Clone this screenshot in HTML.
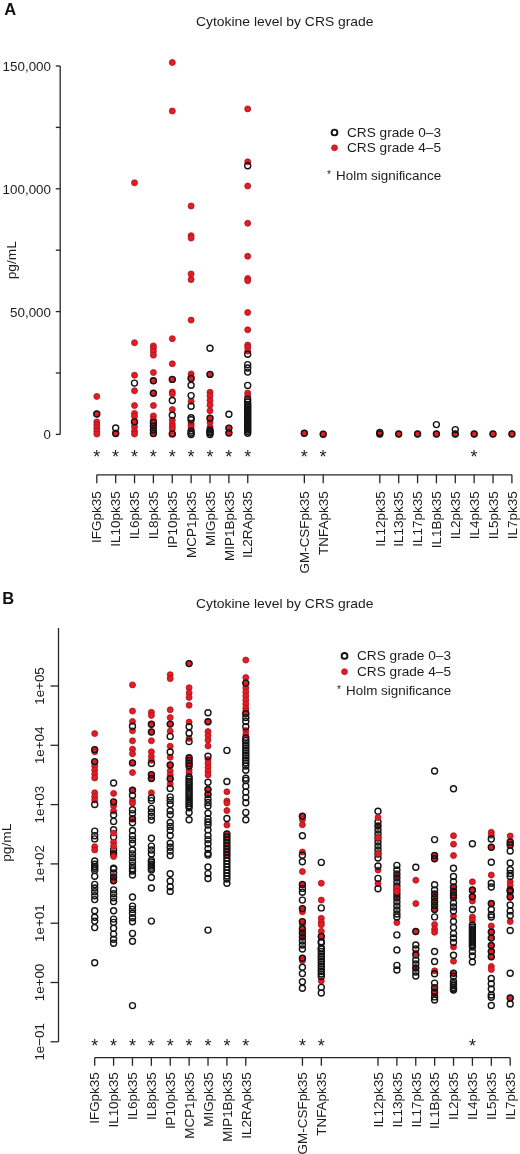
<!DOCTYPE html>
<html><head><meta charset="utf-8"><style>
html,body{margin:0;padding:0;background:#fff;}
svg{display:block;font-family:"Liberation Sans", sans-serif;will-change:transform;}
</style></head><body>
<svg width="520" height="1154" viewBox="0 0 520 1154" style='font-family:"Liberation Sans", sans-serif;'>
<rect width="520" height="1154" fill="#fff"/>
<text x="4.20" y="15.30" font-size="16.5" text-anchor="start" font-weight="bold" fill="#111">A</text>
<text x="284.80" y="26.00" font-size="13" text-anchor="middle" font-weight="normal" fill="#1c1c1c" textLength="177.5" lengthAdjust="spacingAndGlyphs">Cytokine level by CRS grade</text>
<line x1="60.20" y1="66.00" x2="60.20" y2="434.40" stroke="#262626" stroke-width="1.3"/>
<line x1="55.80" y1="66.00" x2="60.20" y2="66.00" stroke="#262626" stroke-width="1.3"/>
<line x1="55.80" y1="127.40" x2="60.20" y2="127.40" stroke="#262626" stroke-width="1.3"/>
<line x1="55.80" y1="188.80" x2="60.20" y2="188.80" stroke="#262626" stroke-width="1.3"/>
<line x1="55.80" y1="250.20" x2="60.20" y2="250.20" stroke="#262626" stroke-width="1.3"/>
<line x1="55.80" y1="311.60" x2="60.20" y2="311.60" stroke="#262626" stroke-width="1.3"/>
<line x1="55.80" y1="373.00" x2="60.20" y2="373.00" stroke="#262626" stroke-width="1.3"/>
<line x1="55.80" y1="434.40" x2="60.20" y2="434.40" stroke="#262626" stroke-width="1.3"/>
<text x="51.00" y="70.90" font-size="13" text-anchor="end" font-weight="normal" fill="#1c1c1c" textLength="48.4" lengthAdjust="spacingAndGlyphs">150,000</text>
<text x="51.00" y="193.70" font-size="13" text-anchor="end" font-weight="normal" fill="#1c1c1c" textLength="48.4" lengthAdjust="spacingAndGlyphs">100,000</text>
<text x="51.00" y="316.50" font-size="13" text-anchor="end" font-weight="normal" fill="#1c1c1c" textLength="41.0" lengthAdjust="spacingAndGlyphs">50,000</text>
<text x="51.00" y="439.30" font-size="13" text-anchor="end" font-weight="normal" fill="#1c1c1c" textLength="7.4" lengthAdjust="spacingAndGlyphs">0</text>
<text x="16.30" y="260.20" font-size="13" text-anchor="middle" font-weight="normal" fill="#1c1c1c" transform="rotate(-90 16.3 260.2)" textLength="38.3" lengthAdjust="spacingAndGlyphs">pg/mL</text>
<line x1="96.80" y1="474.80" x2="511.90" y2="474.80" stroke="#262626" stroke-width="1.3"/>
<line x1="96.80" y1="474.80" x2="96.80" y2="483.30" stroke="#262626" stroke-width="1.3"/>
<text x="101.50" y="491.30" font-size="13" text-anchor="end" font-weight="normal" fill="#1c1c1c" transform="rotate(-90 101.5 491.3)" textLength="51.6" lengthAdjust="spacingAndGlyphs">IFGpk35</text>
<line x1="115.67" y1="474.80" x2="115.67" y2="483.30" stroke="#262626" stroke-width="1.3"/>
<text x="120.37" y="491.30" font-size="13" text-anchor="end" font-weight="normal" fill="#1c1c1c" transform="rotate(-90 120.368 491.3)" textLength="55.4" lengthAdjust="spacingAndGlyphs">IL10pk35</text>
<line x1="134.54" y1="474.80" x2="134.54" y2="483.30" stroke="#262626" stroke-width="1.3"/>
<text x="139.24" y="491.30" font-size="13" text-anchor="end" font-weight="normal" fill="#1c1c1c" transform="rotate(-90 139.236 491.3)" textLength="47.9" lengthAdjust="spacingAndGlyphs">IL6pk35</text>
<line x1="153.40" y1="474.80" x2="153.40" y2="483.30" stroke="#262626" stroke-width="1.3"/>
<text x="158.10" y="491.30" font-size="13" text-anchor="end" font-weight="normal" fill="#1c1c1c" transform="rotate(-90 158.10399999999998 491.3)" textLength="47.9" lengthAdjust="spacingAndGlyphs">IL8pk35</text>
<line x1="172.27" y1="474.80" x2="172.27" y2="483.30" stroke="#262626" stroke-width="1.3"/>
<text x="176.97" y="491.30" font-size="13" text-anchor="end" font-weight="normal" fill="#1c1c1c" transform="rotate(-90 176.97199999999998 491.3)" textLength="56.9" lengthAdjust="spacingAndGlyphs">IP10pk35</text>
<line x1="191.14" y1="474.80" x2="191.14" y2="483.30" stroke="#262626" stroke-width="1.3"/>
<text x="195.84" y="491.30" font-size="13" text-anchor="end" font-weight="normal" fill="#1c1c1c" transform="rotate(-90 195.83999999999997 491.3)" textLength="66.6" lengthAdjust="spacingAndGlyphs">MCP1pk35</text>
<line x1="210.01" y1="474.80" x2="210.01" y2="483.30" stroke="#262626" stroke-width="1.3"/>
<text x="214.71" y="491.30" font-size="13" text-anchor="end" font-weight="normal" fill="#1c1c1c" transform="rotate(-90 214.70799999999997 491.3)" textLength="54.6" lengthAdjust="spacingAndGlyphs">MIGpk35</text>
<line x1="228.88" y1="474.80" x2="228.88" y2="483.30" stroke="#262626" stroke-width="1.3"/>
<text x="233.58" y="491.30" font-size="13" text-anchor="end" font-weight="normal" fill="#1c1c1c" transform="rotate(-90 233.57599999999996 491.3)" textLength="69.6" lengthAdjust="spacingAndGlyphs">MIP1Bpk35</text>
<line x1="247.74" y1="474.80" x2="247.74" y2="483.30" stroke="#262626" stroke-width="1.3"/>
<text x="252.44" y="491.30" font-size="13" text-anchor="end" font-weight="normal" fill="#1c1c1c" transform="rotate(-90 252.44399999999996 491.3)" textLength="66.6" lengthAdjust="spacingAndGlyphs">IL2RApk35</text>
<line x1="304.35" y1="474.80" x2="304.35" y2="483.30" stroke="#262626" stroke-width="1.3"/>
<text x="309.05" y="491.30" font-size="13" text-anchor="end" font-weight="normal" fill="#1c1c1c" transform="rotate(-90 309.04799999999994 491.3)" textLength="82.2" lengthAdjust="spacingAndGlyphs">GM-CSFpk35</text>
<line x1="323.22" y1="474.80" x2="323.22" y2="483.30" stroke="#262626" stroke-width="1.3"/>
<text x="327.92" y="491.30" font-size="13" text-anchor="end" font-weight="normal" fill="#1c1c1c" transform="rotate(-90 327.916 491.3)" textLength="63.6" lengthAdjust="spacingAndGlyphs">TNFApk35</text>
<line x1="379.82" y1="474.80" x2="379.82" y2="483.30" stroke="#262626" stroke-width="1.3"/>
<text x="384.52" y="491.30" font-size="13" text-anchor="end" font-weight="normal" fill="#1c1c1c" transform="rotate(-90 384.52 491.3)" textLength="55.4" lengthAdjust="spacingAndGlyphs">IL12pk35</text>
<line x1="398.69" y1="474.80" x2="398.69" y2="483.30" stroke="#262626" stroke-width="1.3"/>
<text x="403.39" y="491.30" font-size="13" text-anchor="end" font-weight="normal" fill="#1c1c1c" transform="rotate(-90 403.388 491.3)" textLength="55.4" lengthAdjust="spacingAndGlyphs">IL13pk35</text>
<line x1="417.56" y1="474.80" x2="417.56" y2="483.30" stroke="#262626" stroke-width="1.3"/>
<text x="422.26" y="491.30" font-size="13" text-anchor="end" font-weight="normal" fill="#1c1c1c" transform="rotate(-90 422.256 491.3)" textLength="55.4" lengthAdjust="spacingAndGlyphs">IL17pk35</text>
<line x1="436.42" y1="474.80" x2="436.42" y2="483.30" stroke="#262626" stroke-width="1.3"/>
<text x="441.12" y="491.30" font-size="13" text-anchor="end" font-weight="normal" fill="#1c1c1c" transform="rotate(-90 441.12399999999997 491.3)" textLength="56.9" lengthAdjust="spacingAndGlyphs">IL1Bpk35</text>
<line x1="455.29" y1="474.80" x2="455.29" y2="483.30" stroke="#262626" stroke-width="1.3"/>
<text x="459.99" y="491.30" font-size="13" text-anchor="end" font-weight="normal" fill="#1c1c1c" transform="rotate(-90 459.99199999999996 491.3)" textLength="47.9" lengthAdjust="spacingAndGlyphs">IL2pk35</text>
<line x1="474.16" y1="474.80" x2="474.16" y2="483.30" stroke="#262626" stroke-width="1.3"/>
<text x="478.86" y="491.30" font-size="13" text-anchor="end" font-weight="normal" fill="#1c1c1c" transform="rotate(-90 478.85999999999996 491.3)" textLength="47.9" lengthAdjust="spacingAndGlyphs">IL4pk35</text>
<line x1="493.03" y1="474.80" x2="493.03" y2="483.30" stroke="#262626" stroke-width="1.3"/>
<text x="497.73" y="491.30" font-size="13" text-anchor="end" font-weight="normal" fill="#1c1c1c" transform="rotate(-90 497.72799999999995 491.3)" textLength="47.9" lengthAdjust="spacingAndGlyphs">IL5pk35</text>
<line x1="511.90" y1="474.80" x2="511.90" y2="483.30" stroke="#262626" stroke-width="1.3"/>
<text x="516.60" y="491.30" font-size="13" text-anchor="end" font-weight="normal" fill="#1c1c1c" transform="rotate(-90 516.596 491.3)" textLength="47.9" lengthAdjust="spacingAndGlyphs">IL7pk35</text>
<text x="96.70" y="463.10" font-size="18" text-anchor="middle" font-weight="normal" fill="#1c1c1c">*</text>
<text x="115.57" y="463.10" font-size="18" text-anchor="middle" font-weight="normal" fill="#1c1c1c">*</text>
<text x="134.44" y="463.10" font-size="18" text-anchor="middle" font-weight="normal" fill="#1c1c1c">*</text>
<text x="153.30" y="463.10" font-size="18" text-anchor="middle" font-weight="normal" fill="#1c1c1c">*</text>
<text x="172.17" y="463.10" font-size="18" text-anchor="middle" font-weight="normal" fill="#1c1c1c">*</text>
<text x="191.04" y="463.10" font-size="18" text-anchor="middle" font-weight="normal" fill="#1c1c1c">*</text>
<text x="209.91" y="463.10" font-size="18" text-anchor="middle" font-weight="normal" fill="#1c1c1c">*</text>
<text x="228.78" y="463.10" font-size="18" text-anchor="middle" font-weight="normal" fill="#1c1c1c">*</text>
<text x="247.64" y="463.10" font-size="18" text-anchor="middle" font-weight="normal" fill="#1c1c1c">*</text>
<text x="304.25" y="463.10" font-size="18" text-anchor="middle" font-weight="normal" fill="#1c1c1c">*</text>
<text x="323.12" y="463.10" font-size="18" text-anchor="middle" font-weight="normal" fill="#1c1c1c">*</text>
<text x="474.06" y="463.10" font-size="18" text-anchor="middle" font-weight="normal" fill="#1c1c1c">*</text>
<text x="2.30" y="604.30" font-size="16.5" text-anchor="start" font-weight="bold" fill="#111">B</text>
<text x="284.80" y="607.80" font-size="13" text-anchor="middle" font-weight="normal" fill="#1c1c1c" textLength="177.5" lengthAdjust="spacingAndGlyphs">Cytokine level by CRS grade</text>
<line x1="58.50" y1="628.00" x2="58.50" y2="1041.80" stroke="#262626" stroke-width="1.3"/>
<line x1="50.50" y1="1041.80" x2="58.50" y2="1041.80" stroke="#262626" stroke-width="1.3"/>
<text x="44.00" y="1041.80" font-size="13.4" text-anchor="middle" font-weight="normal" fill="#1c1c1c" transform="rotate(-90 44.0 1041.8)">1e−01</text>
<line x1="50.50" y1="982.50" x2="58.50" y2="982.50" stroke="#262626" stroke-width="1.3"/>
<text x="44.00" y="982.50" font-size="13.4" text-anchor="middle" font-weight="normal" fill="#1c1c1c" transform="rotate(-90 44.0 982.5)">1e+00</text>
<line x1="50.50" y1="923.20" x2="58.50" y2="923.20" stroke="#262626" stroke-width="1.3"/>
<text x="44.00" y="923.20" font-size="13.4" text-anchor="middle" font-weight="normal" fill="#1c1c1c" transform="rotate(-90 44.0 923.2)">1e+01</text>
<line x1="50.50" y1="863.90" x2="58.50" y2="863.90" stroke="#262626" stroke-width="1.3"/>
<text x="44.00" y="863.90" font-size="13.4" text-anchor="middle" font-weight="normal" fill="#1c1c1c" transform="rotate(-90 44.0 863.9)">1e+02</text>
<line x1="50.50" y1="804.60" x2="58.50" y2="804.60" stroke="#262626" stroke-width="1.3"/>
<text x="44.00" y="804.60" font-size="13.4" text-anchor="middle" font-weight="normal" fill="#1c1c1c" transform="rotate(-90 44.0 804.6)">1e+03</text>
<line x1="50.50" y1="745.30" x2="58.50" y2="745.30" stroke="#262626" stroke-width="1.3"/>
<text x="44.00" y="745.30" font-size="13.4" text-anchor="middle" font-weight="normal" fill="#1c1c1c" transform="rotate(-90 44.0 745.3)">1e+04</text>
<line x1="50.50" y1="686.00" x2="58.50" y2="686.00" stroke="#262626" stroke-width="1.3"/>
<text x="44.00" y="686.00" font-size="13.4" text-anchor="middle" font-weight="normal" fill="#1c1c1c" transform="rotate(-90 44.0 686.0)">1e+05</text>
<text x="10.90" y="842.70" font-size="13" text-anchor="middle" font-weight="normal" fill="#1c1c1c" transform="rotate(-90 10.9 842.7)" textLength="38.3" lengthAdjust="spacingAndGlyphs">pg/mL</text>
<line x1="94.70" y1="1057.70" x2="510.19" y2="1057.70" stroke="#262626" stroke-width="1.3"/>
<line x1="94.70" y1="1057.70" x2="94.70" y2="1065.80" stroke="#262626" stroke-width="1.3"/>
<text x="99.50" y="1072.20" font-size="13" text-anchor="end" font-weight="normal" fill="#1c1c1c" transform="rotate(-90 99.5 1072.2)" textLength="51.6" lengthAdjust="spacingAndGlyphs">IFGpk35</text>
<line x1="113.59" y1="1057.70" x2="113.59" y2="1065.80" stroke="#262626" stroke-width="1.3"/>
<text x="118.39" y="1072.20" font-size="13" text-anchor="end" font-weight="normal" fill="#1c1c1c" transform="rotate(-90 118.386 1072.2)" textLength="55.4" lengthAdjust="spacingAndGlyphs">IL10pk35</text>
<line x1="132.47" y1="1057.70" x2="132.47" y2="1065.80" stroke="#262626" stroke-width="1.3"/>
<text x="137.27" y="1072.20" font-size="13" text-anchor="end" font-weight="normal" fill="#1c1c1c" transform="rotate(-90 137.27200000000002 1072.2)" textLength="47.9" lengthAdjust="spacingAndGlyphs">IL6pk35</text>
<line x1="151.36" y1="1057.70" x2="151.36" y2="1065.80" stroke="#262626" stroke-width="1.3"/>
<text x="156.16" y="1072.20" font-size="13" text-anchor="end" font-weight="normal" fill="#1c1c1c" transform="rotate(-90 156.15800000000002 1072.2)" textLength="47.9" lengthAdjust="spacingAndGlyphs">IL8pk35</text>
<line x1="170.24" y1="1057.70" x2="170.24" y2="1065.80" stroke="#262626" stroke-width="1.3"/>
<text x="175.04" y="1072.20" font-size="13" text-anchor="end" font-weight="normal" fill="#1c1c1c" transform="rotate(-90 175.044 1072.2)" textLength="56.9" lengthAdjust="spacingAndGlyphs">IP10pk35</text>
<line x1="189.13" y1="1057.70" x2="189.13" y2="1065.80" stroke="#262626" stroke-width="1.3"/>
<text x="193.93" y="1072.20" font-size="13" text-anchor="end" font-weight="normal" fill="#1c1c1c" transform="rotate(-90 193.93 1072.2)" textLength="66.6" lengthAdjust="spacingAndGlyphs">MCP1pk35</text>
<line x1="208.02" y1="1057.70" x2="208.02" y2="1065.80" stroke="#262626" stroke-width="1.3"/>
<text x="212.82" y="1072.20" font-size="13" text-anchor="end" font-weight="normal" fill="#1c1c1c" transform="rotate(-90 212.81600000000003 1072.2)" textLength="54.6" lengthAdjust="spacingAndGlyphs">MIGpk35</text>
<line x1="226.90" y1="1057.70" x2="226.90" y2="1065.80" stroke="#262626" stroke-width="1.3"/>
<text x="231.70" y="1072.20" font-size="13" text-anchor="end" font-weight="normal" fill="#1c1c1c" transform="rotate(-90 231.702 1072.2)" textLength="69.6" lengthAdjust="spacingAndGlyphs">MIP1Bpk35</text>
<line x1="245.79" y1="1057.70" x2="245.79" y2="1065.80" stroke="#262626" stroke-width="1.3"/>
<text x="250.59" y="1072.20" font-size="13" text-anchor="end" font-weight="normal" fill="#1c1c1c" transform="rotate(-90 250.58800000000002 1072.2)" textLength="66.6" lengthAdjust="spacingAndGlyphs">IL2RApk35</text>
<line x1="302.45" y1="1057.70" x2="302.45" y2="1065.80" stroke="#262626" stroke-width="1.3"/>
<text x="307.25" y="1072.20" font-size="13" text-anchor="end" font-weight="normal" fill="#1c1c1c" transform="rotate(-90 307.246 1072.2)" textLength="82.2" lengthAdjust="spacingAndGlyphs">GM-CSFpk35</text>
<line x1="321.33" y1="1057.70" x2="321.33" y2="1065.80" stroke="#262626" stroke-width="1.3"/>
<text x="326.13" y="1072.20" font-size="13" text-anchor="end" font-weight="normal" fill="#1c1c1c" transform="rotate(-90 326.132 1072.2)" textLength="63.6" lengthAdjust="spacingAndGlyphs">TNFApk35</text>
<line x1="377.99" y1="1057.70" x2="377.99" y2="1065.80" stroke="#262626" stroke-width="1.3"/>
<text x="382.79" y="1072.20" font-size="13" text-anchor="end" font-weight="normal" fill="#1c1c1c" transform="rotate(-90 382.78999999999996 1072.2)" textLength="55.4" lengthAdjust="spacingAndGlyphs">IL12pk35</text>
<line x1="396.88" y1="1057.70" x2="396.88" y2="1065.80" stroke="#262626" stroke-width="1.3"/>
<text x="401.68" y="1072.20" font-size="13" text-anchor="end" font-weight="normal" fill="#1c1c1c" transform="rotate(-90 401.676 1072.2)" textLength="55.4" lengthAdjust="spacingAndGlyphs">IL13pk35</text>
<line x1="415.76" y1="1057.70" x2="415.76" y2="1065.80" stroke="#262626" stroke-width="1.3"/>
<text x="420.56" y="1072.20" font-size="13" text-anchor="end" font-weight="normal" fill="#1c1c1c" transform="rotate(-90 420.562 1072.2)" textLength="55.4" lengthAdjust="spacingAndGlyphs">IL17pk35</text>
<line x1="434.65" y1="1057.70" x2="434.65" y2="1065.80" stroke="#262626" stroke-width="1.3"/>
<text x="439.45" y="1072.20" font-size="13" text-anchor="end" font-weight="normal" fill="#1c1c1c" transform="rotate(-90 439.448 1072.2)" textLength="56.9" lengthAdjust="spacingAndGlyphs">IL1Bpk35</text>
<line x1="453.53" y1="1057.70" x2="453.53" y2="1065.80" stroke="#262626" stroke-width="1.3"/>
<text x="458.33" y="1072.20" font-size="13" text-anchor="end" font-weight="normal" fill="#1c1c1c" transform="rotate(-90 458.334 1072.2)" textLength="47.9" lengthAdjust="spacingAndGlyphs">IL2pk35</text>
<line x1="472.42" y1="1057.70" x2="472.42" y2="1065.80" stroke="#262626" stroke-width="1.3"/>
<text x="477.22" y="1072.20" font-size="13" text-anchor="end" font-weight="normal" fill="#1c1c1c" transform="rotate(-90 477.21999999999997 1072.2)" textLength="47.9" lengthAdjust="spacingAndGlyphs">IL4pk35</text>
<line x1="491.31" y1="1057.70" x2="491.31" y2="1065.80" stroke="#262626" stroke-width="1.3"/>
<text x="496.11" y="1072.20" font-size="13" text-anchor="end" font-weight="normal" fill="#1c1c1c" transform="rotate(-90 496.106 1072.2)" textLength="47.9" lengthAdjust="spacingAndGlyphs">IL5pk35</text>
<line x1="510.19" y1="1057.70" x2="510.19" y2="1065.80" stroke="#262626" stroke-width="1.3"/>
<text x="514.99" y="1072.20" font-size="13" text-anchor="end" font-weight="normal" fill="#1c1c1c" transform="rotate(-90 514.992 1072.2)" textLength="47.9" lengthAdjust="spacingAndGlyphs">IL7pk35</text>
<text x="94.70" y="1051.90" font-size="18" text-anchor="middle" font-weight="normal" fill="#1c1c1c">*</text>
<text x="113.59" y="1051.90" font-size="18" text-anchor="middle" font-weight="normal" fill="#1c1c1c">*</text>
<text x="132.47" y="1051.90" font-size="18" text-anchor="middle" font-weight="normal" fill="#1c1c1c">*</text>
<text x="151.36" y="1051.90" font-size="18" text-anchor="middle" font-weight="normal" fill="#1c1c1c">*</text>
<text x="170.24" y="1051.90" font-size="18" text-anchor="middle" font-weight="normal" fill="#1c1c1c">*</text>
<text x="189.13" y="1051.90" font-size="18" text-anchor="middle" font-weight="normal" fill="#1c1c1c">*</text>
<text x="208.02" y="1051.90" font-size="18" text-anchor="middle" font-weight="normal" fill="#1c1c1c">*</text>
<text x="226.90" y="1051.90" font-size="18" text-anchor="middle" font-weight="normal" fill="#1c1c1c">*</text>
<text x="245.79" y="1051.90" font-size="18" text-anchor="middle" font-weight="normal" fill="#1c1c1c">*</text>
<text x="302.45" y="1051.90" font-size="18" text-anchor="middle" font-weight="normal" fill="#1c1c1c">*</text>
<text x="321.33" y="1051.90" font-size="18" text-anchor="middle" font-weight="normal" fill="#1c1c1c">*</text>
<text x="472.42" y="1051.90" font-size="18" text-anchor="middle" font-weight="normal" fill="#1c1c1c">*</text>
<circle cx="334.5" cy="132.5" r="2.9" fill="none" stroke="#111" stroke-width="1.9"/>
<circle cx="334.5" cy="147.8" r="3.0" fill="#e01b24" stroke="#b8141c" stroke-width="0.7"/>
<text x="347.00" y="137.00" font-size="13" text-anchor="start" font-weight="normal" fill="#1c1c1c" textLength="94.0" lengthAdjust="spacingAndGlyphs">CRS grade 0–3</text>
<text x="347.00" y="152.30" font-size="13" text-anchor="start" font-weight="normal" fill="#1c1c1c" textLength="94.0" lengthAdjust="spacingAndGlyphs">CRS grade 4–5</text>
<text x="328.90" y="177.90" font-size="10" text-anchor="middle" font-weight="normal" fill="#1c1c1c">*</text>
<text x="336.10" y="179.90" font-size="13" text-anchor="start" font-weight="normal" fill="#1c1c1c" textLength="105.0" lengthAdjust="spacingAndGlyphs">Holm significance</text>
<circle cx="344.5" cy="655.9" r="2.9" fill="none" stroke="#111" stroke-width="1.9"/>
<circle cx="344.5" cy="671.6999999999999" r="3.0" fill="#e01b24" stroke="#b8141c" stroke-width="0.7"/>
<text x="357.00" y="660.40" font-size="13" text-anchor="start" font-weight="normal" fill="#1c1c1c" textLength="94.0" lengthAdjust="spacingAndGlyphs">CRS grade 0–3</text>
<text x="357.00" y="676.20" font-size="13" text-anchor="start" font-weight="normal" fill="#1c1c1c" textLength="94.0" lengthAdjust="spacingAndGlyphs">CRS grade 4–5</text>
<text x="338.90" y="693.20" font-size="10" text-anchor="middle" font-weight="normal" fill="#1c1c1c">*</text>
<text x="346.10" y="695.20" font-size="13" text-anchor="start" font-weight="normal" fill="#1c1c1c" textLength="105.0" lengthAdjust="spacingAndGlyphs">Holm significance</text>
<circle cx="96.8" cy="396.4" r="3.0" fill="#e31c25" stroke="#a8121a" stroke-width="0.8" opacity="1"/>
<circle cx="96.8" cy="414.0" r="3.0" fill="#e31c25" stroke="#a8121a" stroke-width="0.8" opacity="1"/>
<circle cx="96.8" cy="422.0" r="3.0" fill="#e31c25" stroke="#a8121a" stroke-width="0.8" opacity="1"/>
<circle cx="96.8" cy="425.0" r="3.0" fill="#e31c25" stroke="#a8121a" stroke-width="0.8" opacity="1"/>
<circle cx="96.8" cy="428.0" r="3.0" fill="#e31c25" stroke="#a8121a" stroke-width="0.8" opacity="1"/>
<circle cx="96.8" cy="431.0" r="3.0" fill="#e31c25" stroke="#a8121a" stroke-width="0.8" opacity="1"/>
<circle cx="96.8" cy="434.0" r="3.0" fill="#e31c25" stroke="#a8121a" stroke-width="0.8" opacity="1"/>
<circle cx="115.7" cy="433.0" r="3.0" fill="#e31c25" stroke="#a8121a" stroke-width="0.8" opacity="1"/>
<circle cx="134.5" cy="182.8" r="3.0" fill="#e31c25" stroke="#a8121a" stroke-width="0.8" opacity="1"/>
<circle cx="134.5" cy="342.7" r="3.0" fill="#e31c25" stroke="#a8121a" stroke-width="0.8" opacity="1"/>
<circle cx="134.5" cy="375.2" r="3.0" fill="#e31c25" stroke="#a8121a" stroke-width="0.8" opacity="1"/>
<circle cx="134.5" cy="390.7" r="3.0" fill="#e31c25" stroke="#a8121a" stroke-width="0.8" opacity="1"/>
<circle cx="134.5" cy="405.5" r="3.0" fill="#e31c25" stroke="#a8121a" stroke-width="0.8" opacity="1"/>
<circle cx="134.5" cy="413.4" r="3.0" fill="#e31c25" stroke="#a8121a" stroke-width="0.8" opacity="1"/>
<circle cx="134.5" cy="416.5" r="3.0" fill="#e31c25" stroke="#a8121a" stroke-width="0.8" opacity="1"/>
<circle cx="134.5" cy="421.9" r="3.0" fill="#e31c25" stroke="#a8121a" stroke-width="0.8" opacity="1"/>
<circle cx="134.5" cy="426.8" r="3.0" fill="#e31c25" stroke="#a8121a" stroke-width="0.8" opacity="1"/>
<circle cx="134.5" cy="431.0" r="3.0" fill="#e31c25" stroke="#a8121a" stroke-width="0.8" opacity="1"/>
<circle cx="134.5" cy="434.0" r="3.0" fill="#e31c25" stroke="#a8121a" stroke-width="0.8" opacity="1"/>
<circle cx="153.4" cy="345.9" r="3.0" fill="#e31c25" stroke="#a8121a" stroke-width="0.8" opacity="1"/>
<circle cx="153.4" cy="348.5" r="3.0" fill="#e31c25" stroke="#a8121a" stroke-width="0.8" opacity="1"/>
<circle cx="153.4" cy="351.6" r="3.0" fill="#e31c25" stroke="#a8121a" stroke-width="0.8" opacity="1"/>
<circle cx="153.4" cy="355.2" r="3.0" fill="#e31c25" stroke="#a8121a" stroke-width="0.8" opacity="1"/>
<circle cx="153.4" cy="372.5" r="3.0" fill="#e31c25" stroke="#a8121a" stroke-width="0.8" opacity="1"/>
<circle cx="153.4" cy="380.7" r="3.0" fill="#e31c25" stroke="#a8121a" stroke-width="0.8" opacity="1"/>
<circle cx="153.4" cy="393.2" r="3.0" fill="#e31c25" stroke="#a8121a" stroke-width="0.8" opacity="1"/>
<circle cx="153.4" cy="405.5" r="3.0" fill="#e31c25" stroke="#a8121a" stroke-width="0.8" opacity="1"/>
<circle cx="153.4" cy="415.9" r="3.0" fill="#e31c25" stroke="#a8121a" stroke-width="0.8" opacity="1"/>
<circle cx="153.4" cy="419.5" r="3.0" fill="#e31c25" stroke="#a8121a" stroke-width="0.8" opacity="1"/>
<circle cx="153.4" cy="422.5" r="3.0" fill="#e31c25" stroke="#a8121a" stroke-width="0.8" opacity="1"/>
<circle cx="153.4" cy="426.0" r="3.0" fill="#e31c25" stroke="#a8121a" stroke-width="0.8" opacity="1"/>
<circle cx="153.4" cy="430.0" r="3.0" fill="#e31c25" stroke="#a8121a" stroke-width="0.8" opacity="1"/>
<circle cx="153.4" cy="433.5" r="3.0" fill="#e31c25" stroke="#a8121a" stroke-width="0.8" opacity="1"/>
<circle cx="172.3" cy="62.5" r="3.0" fill="#e31c25" stroke="#a8121a" stroke-width="0.8" opacity="1"/>
<circle cx="172.3" cy="111.0" r="3.0" fill="#e31c25" stroke="#a8121a" stroke-width="0.8" opacity="1"/>
<circle cx="172.3" cy="338.7" r="3.0" fill="#e31c25" stroke="#a8121a" stroke-width="0.8" opacity="1"/>
<circle cx="172.3" cy="363.8" r="3.0" fill="#e31c25" stroke="#a8121a" stroke-width="0.8" opacity="1"/>
<circle cx="172.3" cy="379.4" r="3.0" fill="#e31c25" stroke="#a8121a" stroke-width="0.8" opacity="1"/>
<circle cx="172.3" cy="392.0" r="3.0" fill="#e31c25" stroke="#a8121a" stroke-width="0.8" opacity="1"/>
<circle cx="172.3" cy="393.9" r="3.0" fill="#e31c25" stroke="#a8121a" stroke-width="0.8" opacity="1"/>
<circle cx="172.3" cy="409.6" r="3.0" fill="#e31c25" stroke="#a8121a" stroke-width="0.8" opacity="1"/>
<circle cx="172.3" cy="420.1" r="3.0" fill="#e31c25" stroke="#a8121a" stroke-width="0.8" opacity="1"/>
<circle cx="172.3" cy="423.9" r="3.0" fill="#e31c25" stroke="#a8121a" stroke-width="0.8" opacity="1"/>
<circle cx="172.3" cy="426.5" r="3.0" fill="#e31c25" stroke="#a8121a" stroke-width="0.8" opacity="1"/>
<circle cx="172.3" cy="429.1" r="3.0" fill="#e31c25" stroke="#a8121a" stroke-width="0.8" opacity="1"/>
<circle cx="172.3" cy="433.9" r="3.0" fill="#e31c25" stroke="#a8121a" stroke-width="0.8" opacity="1"/>
<circle cx="191.1" cy="206.0" r="3.0" fill="#e31c25" stroke="#a8121a" stroke-width="0.8" opacity="1"/>
<circle cx="191.1" cy="235.7" r="3.0" fill="#e31c25" stroke="#a8121a" stroke-width="0.8" opacity="1"/>
<circle cx="191.1" cy="238.1" r="3.0" fill="#e31c25" stroke="#a8121a" stroke-width="0.8" opacity="1"/>
<circle cx="191.1" cy="274.0" r="3.0" fill="#e31c25" stroke="#a8121a" stroke-width="0.8" opacity="1"/>
<circle cx="191.1" cy="279.6" r="3.0" fill="#e31c25" stroke="#a8121a" stroke-width="0.8" opacity="1"/>
<circle cx="191.1" cy="320.1" r="3.0" fill="#e31c25" stroke="#a8121a" stroke-width="0.8" opacity="1"/>
<circle cx="191.1" cy="373.9" r="3.0" fill="#e31c25" stroke="#a8121a" stroke-width="0.8" opacity="1"/>
<circle cx="191.1" cy="376.7" r="3.0" fill="#e31c25" stroke="#a8121a" stroke-width="0.8" opacity="1"/>
<circle cx="191.1" cy="378.6" r="3.0" fill="#e31c25" stroke="#a8121a" stroke-width="0.8" opacity="1"/>
<circle cx="191.1" cy="401.3" r="3.0" fill="#e31c25" stroke="#a8121a" stroke-width="0.8" opacity="1"/>
<circle cx="191.1" cy="423.5" r="3.0" fill="#e31c25" stroke="#a8121a" stroke-width="0.8" opacity="1"/>
<circle cx="191.1" cy="425.3" r="3.0" fill="#e31c25" stroke="#a8121a" stroke-width="0.8" opacity="1"/>
<circle cx="191.1" cy="427.5" r="3.0" fill="#e31c25" stroke="#a8121a" stroke-width="0.8" opacity="1"/>
<circle cx="210.0" cy="374.4" r="3.0" fill="#e31c25" stroke="#a8121a" stroke-width="0.8" opacity="1"/>
<circle cx="210.0" cy="392.3" r="3.0" fill="#e31c25" stroke="#a8121a" stroke-width="0.8" opacity="1"/>
<circle cx="210.0" cy="395.8" r="3.0" fill="#e31c25" stroke="#a8121a" stroke-width="0.8" opacity="1"/>
<circle cx="210.0" cy="400.4" r="3.0" fill="#e31c25" stroke="#a8121a" stroke-width="0.8" opacity="1"/>
<circle cx="210.0" cy="405.0" r="3.0" fill="#e31c25" stroke="#a8121a" stroke-width="0.8" opacity="1"/>
<circle cx="210.0" cy="410.8" r="3.0" fill="#e31c25" stroke="#a8121a" stroke-width="0.8" opacity="1"/>
<circle cx="210.0" cy="418.3" r="3.0" fill="#e31c25" stroke="#a8121a" stroke-width="0.8" opacity="1"/>
<circle cx="210.0" cy="422.3" r="3.0" fill="#e31c25" stroke="#a8121a" stroke-width="0.8" opacity="1"/>
<circle cx="210.0" cy="426.9" r="3.0" fill="#e31c25" stroke="#a8121a" stroke-width="0.8" opacity="1"/>
<circle cx="228.9" cy="428.1" r="3.0" fill="#e31c25" stroke="#a8121a" stroke-width="0.8" opacity="1"/>
<circle cx="228.9" cy="432.7" r="3.0" fill="#e31c25" stroke="#a8121a" stroke-width="0.8" opacity="1"/>
<circle cx="247.7" cy="108.9" r="3.0" fill="#e31c25" stroke="#a8121a" stroke-width="0.8" opacity="1"/>
<circle cx="247.7" cy="161.8" r="3.0" fill="#e31c25" stroke="#a8121a" stroke-width="0.8" opacity="1"/>
<circle cx="247.7" cy="186.0" r="3.0" fill="#e31c25" stroke="#a8121a" stroke-width="0.8" opacity="1"/>
<circle cx="247.7" cy="223.3" r="3.0" fill="#e31c25" stroke="#a8121a" stroke-width="0.8" opacity="1"/>
<circle cx="247.7" cy="256.3" r="3.0" fill="#e31c25" stroke="#a8121a" stroke-width="0.8" opacity="1"/>
<circle cx="247.7" cy="278.5" r="3.0" fill="#e31c25" stroke="#a8121a" stroke-width="0.8" opacity="1"/>
<circle cx="247.7" cy="280.7" r="3.0" fill="#e31c25" stroke="#a8121a" stroke-width="0.8" opacity="1"/>
<circle cx="247.7" cy="312.5" r="3.0" fill="#e31c25" stroke="#a8121a" stroke-width="0.8" opacity="1"/>
<circle cx="247.7" cy="329.8" r="3.0" fill="#e31c25" stroke="#a8121a" stroke-width="0.8" opacity="1"/>
<circle cx="247.7" cy="345.0" r="3.0" fill="#e31c25" stroke="#a8121a" stroke-width="0.8" opacity="1"/>
<circle cx="247.7" cy="347.3" r="3.0" fill="#e31c25" stroke="#a8121a" stroke-width="0.8" opacity="1"/>
<circle cx="247.7" cy="351.0" r="3.0" fill="#e31c25" stroke="#a8121a" stroke-width="0.8" opacity="1"/>
<circle cx="247.7" cy="392.9" r="3.0" fill="#e31c25" stroke="#a8121a" stroke-width="0.8" opacity="1"/>
<circle cx="247.7" cy="395.8" r="3.0" fill="#e31c25" stroke="#a8121a" stroke-width="0.8" opacity="1"/>
<circle cx="304.3" cy="433.3" r="3.0" fill="#e31c25" stroke="#a8121a" stroke-width="0.8" opacity="1"/>
<circle cx="323.2" cy="434.2" r="3.0" fill="#e31c25" stroke="#a8121a" stroke-width="0.8" opacity="1"/>
<circle cx="379.8" cy="434.0" r="3.0" fill="#e31c25" stroke="#a8121a" stroke-width="0.8" opacity="1"/>
<circle cx="398.7" cy="434.0" r="3.0" fill="#e31c25" stroke="#a8121a" stroke-width="0.8" opacity="1"/>
<circle cx="417.6" cy="434.0" r="3.0" fill="#e31c25" stroke="#a8121a" stroke-width="0.8" opacity="1"/>
<circle cx="436.4" cy="434.0" r="3.0" fill="#e31c25" stroke="#a8121a" stroke-width="0.8" opacity="1"/>
<circle cx="455.3" cy="434.0" r="3.0" fill="#e31c25" stroke="#a8121a" stroke-width="0.8" opacity="1"/>
<circle cx="474.2" cy="434.0" r="3.0" fill="#e31c25" stroke="#a8121a" stroke-width="0.8" opacity="1"/>
<circle cx="493.0" cy="434.0" r="3.0" fill="#e31c25" stroke="#a8121a" stroke-width="0.8" opacity="1"/>
<circle cx="511.9" cy="434.0" r="3.0" fill="#e31c25" stroke="#a8121a" stroke-width="0.8" opacity="1"/>
<circle cx="96.8" cy="414.0" r="3.0" fill="none" stroke="#141414" stroke-width="1.4"/>
<circle cx="115.7" cy="428.0" r="3.0" fill="none" stroke="#141414" stroke-width="1.4"/>
<circle cx="115.7" cy="433.5" r="3.0" fill="none" stroke="#141414" stroke-width="1.4"/>
<circle cx="134.5" cy="383.1" r="3.0" fill="none" stroke="#141414" stroke-width="1.4"/>
<circle cx="134.5" cy="421.9" r="3.0" fill="none" stroke="#141414" stroke-width="1.4"/>
<circle cx="153.4" cy="380.7" r="3.0" fill="none" stroke="#141414" stroke-width="1.4"/>
<circle cx="153.4" cy="393.2" r="3.0" fill="none" stroke="#141414" stroke-width="1.4"/>
<circle cx="153.4" cy="422.5" r="3.0" fill="none" stroke="#141414" stroke-width="1.4"/>
<circle cx="153.4" cy="426.0" r="3.0" fill="none" stroke="#141414" stroke-width="1.4"/>
<circle cx="153.4" cy="430.0" r="3.0" fill="none" stroke="#141414" stroke-width="1.4"/>
<circle cx="153.4" cy="433.5" r="3.0" fill="none" stroke="#141414" stroke-width="1.4"/>
<circle cx="172.3" cy="379.4" r="3.0" fill="none" stroke="#141414" stroke-width="1.4"/>
<circle cx="172.3" cy="400.5" r="3.0" fill="none" stroke="#141414" stroke-width="1.4"/>
<circle cx="172.3" cy="415.3" r="3.0" fill="none" stroke="#141414" stroke-width="1.4"/>
<circle cx="172.3" cy="433.9" r="3.0" fill="none" stroke="#141414" stroke-width="1.4"/>
<circle cx="191.1" cy="378.6" r="3.0" fill="none" stroke="#141414" stroke-width="1.4"/>
<circle cx="191.1" cy="385.3" r="3.0" fill="none" stroke="#141414" stroke-width="1.4"/>
<circle cx="191.1" cy="395.6" r="3.0" fill="none" stroke="#141414" stroke-width="1.4"/>
<circle cx="191.1" cy="406.3" r="3.0" fill="none" stroke="#141414" stroke-width="1.4"/>
<circle cx="191.1" cy="417.7" r="3.0" fill="none" stroke="#141414" stroke-width="1.4"/>
<circle cx="191.1" cy="419.8" r="3.0" fill="none" stroke="#141414" stroke-width="1.4"/>
<circle cx="191.1" cy="431.0" r="3.0" fill="none" stroke="#141414" stroke-width="1.4"/>
<circle cx="191.1" cy="433.0" r="3.0" fill="none" stroke="#141414" stroke-width="1.4"/>
<circle cx="191.1" cy="434.5" r="3.0" fill="none" stroke="#141414" stroke-width="1.4"/>
<circle cx="210.0" cy="348.2" r="3.0" fill="none" stroke="#141414" stroke-width="1.4"/>
<circle cx="210.0" cy="374.4" r="3.0" fill="none" stroke="#141414" stroke-width="1.4"/>
<circle cx="210.0" cy="418.3" r="3.0" fill="none" stroke="#141414" stroke-width="1.4"/>
<circle cx="210.0" cy="430.0" r="3.0" fill="none" stroke="#141414" stroke-width="1.4"/>
<circle cx="210.0" cy="431.5" r="3.0" fill="none" stroke="#141414" stroke-width="1.4"/>
<circle cx="210.0" cy="433.0" r="3.0" fill="none" stroke="#141414" stroke-width="1.4"/>
<circle cx="210.0" cy="434.5" r="3.0" fill="none" stroke="#141414" stroke-width="1.4"/>
<circle cx="228.9" cy="414.2" r="3.0" fill="none" stroke="#141414" stroke-width="1.4"/>
<circle cx="228.9" cy="428.1" r="3.0" fill="none" stroke="#141414" stroke-width="1.4"/>
<circle cx="228.9" cy="433.0" r="3.0" fill="none" stroke="#141414" stroke-width="1.4"/>
<circle cx="247.7" cy="165.8" r="3.0" fill="none" stroke="#141414" stroke-width="1.4"/>
<circle cx="247.7" cy="354.2" r="3.0" fill="none" stroke="#141414" stroke-width="1.4"/>
<circle cx="247.7" cy="364.6" r="3.0" fill="none" stroke="#141414" stroke-width="1.4"/>
<circle cx="247.7" cy="368.0" r="3.0" fill="none" stroke="#141414" stroke-width="1.4"/>
<circle cx="247.7" cy="372.1" r="3.0" fill="none" stroke="#141414" stroke-width="1.4"/>
<circle cx="247.7" cy="385.4" r="3.0" fill="none" stroke="#141414" stroke-width="1.4"/>
<circle cx="247.7" cy="399.2" r="3.0" fill="none" stroke="#141414" stroke-width="1.4"/>
<circle cx="247.7" cy="402.0" r="3.0" fill="none" stroke="#141414" stroke-width="1.4"/>
<circle cx="247.7" cy="404.4" r="3.0" fill="none" stroke="#141414" stroke-width="1.4"/>
<circle cx="247.7" cy="406.0" r="3.0" fill="none" stroke="#141414" stroke-width="1.4"/>
<circle cx="247.7" cy="407.6" r="3.0" fill="none" stroke="#141414" stroke-width="1.4"/>
<circle cx="247.7" cy="409.2" r="3.0" fill="none" stroke="#141414" stroke-width="1.4"/>
<circle cx="247.7" cy="410.8" r="3.0" fill="none" stroke="#141414" stroke-width="1.4"/>
<circle cx="247.7" cy="412.4" r="3.0" fill="none" stroke="#141414" stroke-width="1.4"/>
<circle cx="247.7" cy="414.0" r="3.0" fill="none" stroke="#141414" stroke-width="1.4"/>
<circle cx="247.7" cy="415.6" r="3.0" fill="none" stroke="#141414" stroke-width="1.4"/>
<circle cx="247.7" cy="417.2" r="3.0" fill="none" stroke="#141414" stroke-width="1.4"/>
<circle cx="247.7" cy="418.8" r="3.0" fill="none" stroke="#141414" stroke-width="1.4"/>
<circle cx="247.7" cy="420.4" r="3.0" fill="none" stroke="#141414" stroke-width="1.4"/>
<circle cx="247.7" cy="422.0" r="3.0" fill="none" stroke="#141414" stroke-width="1.4"/>
<circle cx="247.7" cy="423.6" r="3.0" fill="none" stroke="#141414" stroke-width="1.4"/>
<circle cx="247.7" cy="425.2" r="3.0" fill="none" stroke="#141414" stroke-width="1.4"/>
<circle cx="247.7" cy="426.8" r="3.0" fill="none" stroke="#141414" stroke-width="1.4"/>
<circle cx="247.7" cy="428.4" r="3.0" fill="none" stroke="#141414" stroke-width="1.4"/>
<circle cx="247.7" cy="430.0" r="3.0" fill="none" stroke="#141414" stroke-width="1.4"/>
<circle cx="247.7" cy="431.6" r="3.0" fill="none" stroke="#141414" stroke-width="1.4"/>
<circle cx="247.7" cy="433.2" r="3.0" fill="none" stroke="#141414" stroke-width="1.4"/>
<circle cx="304.3" cy="433.3" r="3.0" fill="none" stroke="#141414" stroke-width="1.4"/>
<circle cx="323.2" cy="434.2" r="3.0" fill="none" stroke="#141414" stroke-width="1.4"/>
<circle cx="379.8" cy="432.5" r="3.0" fill="none" stroke="#141414" stroke-width="1.4"/>
<circle cx="379.8" cy="434.0" r="3.0" fill="none" stroke="#141414" stroke-width="1.4"/>
<circle cx="398.7" cy="434.0" r="3.0" fill="none" stroke="#141414" stroke-width="1.4"/>
<circle cx="417.6" cy="434.0" r="3.0" fill="none" stroke="#141414" stroke-width="1.4"/>
<circle cx="436.4" cy="434.0" r="3.0" fill="none" stroke="#141414" stroke-width="1.4"/>
<circle cx="436.4" cy="424.6" r="3.0" fill="none" stroke="#141414" stroke-width="1.4"/>
<circle cx="455.3" cy="434.0" r="3.0" fill="none" stroke="#141414" stroke-width="1.4"/>
<circle cx="455.3" cy="429.6" r="3.0" fill="none" stroke="#141414" stroke-width="1.4"/>
<circle cx="474.2" cy="434.0" r="3.0" fill="none" stroke="#141414" stroke-width="1.4"/>
<circle cx="493.0" cy="434.0" r="3.0" fill="none" stroke="#141414" stroke-width="1.4"/>
<circle cx="511.9" cy="434.0" r="3.0" fill="none" stroke="#141414" stroke-width="1.4"/>
<circle cx="94.7" cy="733.6" r="3.0" fill="#e31c25" stroke="#a8121a" stroke-width="0.8" opacity="1"/>
<circle cx="94.7" cy="749.6" r="3.0" fill="#e31c25" stroke="#a8121a" stroke-width="0.8" opacity="1"/>
<circle cx="94.7" cy="751.8" r="3.0" fill="#e31c25" stroke="#a8121a" stroke-width="0.8" opacity="1"/>
<circle cx="94.7" cy="762.2" r="3.0" fill="#e31c25" stroke="#a8121a" stroke-width="0.8" opacity="1"/>
<circle cx="94.7" cy="766.0" r="3.0" fill="#e31c25" stroke="#a8121a" stroke-width="0.8" opacity="1"/>
<circle cx="94.7" cy="770.0" r="3.0" fill="#e31c25" stroke="#a8121a" stroke-width="0.8" opacity="1"/>
<circle cx="94.7" cy="774.0" r="3.0" fill="#e31c25" stroke="#a8121a" stroke-width="0.8" opacity="1"/>
<circle cx="94.7" cy="778.0" r="3.0" fill="#e31c25" stroke="#a8121a" stroke-width="0.8" opacity="1"/>
<circle cx="94.7" cy="792.8" r="3.0" fill="#e31c25" stroke="#a8121a" stroke-width="0.8" opacity="1"/>
<circle cx="94.7" cy="796.7" r="3.0" fill="#e31c25" stroke="#a8121a" stroke-width="0.8" opacity="1"/>
<circle cx="94.7" cy="800.0" r="3.0" fill="#e31c25" stroke="#a8121a" stroke-width="0.8" opacity="1"/>
<circle cx="94.7" cy="846.7" r="3.0" fill="#e31c25" stroke="#a8121a" stroke-width="0.8" opacity="1"/>
<circle cx="94.7" cy="850.0" r="3.0" fill="#e31c25" stroke="#a8121a" stroke-width="0.8" opacity="1"/>
<circle cx="113.6" cy="793.4" r="3.0" fill="#e31c25" stroke="#a8121a" stroke-width="0.8" opacity="1"/>
<circle cx="113.6" cy="801.9" r="3.0" fill="#e31c25" stroke="#a8121a" stroke-width="0.8" opacity="1"/>
<circle cx="113.6" cy="805.8" r="3.0" fill="#e31c25" stroke="#a8121a" stroke-width="0.8" opacity="1"/>
<circle cx="113.6" cy="811.0" r="3.0" fill="#e31c25" stroke="#a8121a" stroke-width="0.8" opacity="1"/>
<circle cx="113.6" cy="852.6" r="3.0" fill="#e31c25" stroke="#a8121a" stroke-width="0.8" opacity="1"/>
<circle cx="113.6" cy="876.9" r="3.0" fill="#e31c25" stroke="#a8121a" stroke-width="0.8" opacity="1"/>
<circle cx="113.6" cy="880.8" r="3.0" fill="#e31c25" stroke="#a8121a" stroke-width="0.8" opacity="1"/>
<circle cx="132.5" cy="684.9" r="3.0" fill="#e31c25" stroke="#a8121a" stroke-width="0.8" opacity="1"/>
<circle cx="132.5" cy="711.1" r="3.0" fill="#e31c25" stroke="#a8121a" stroke-width="0.8" opacity="1"/>
<circle cx="132.5" cy="721.5" r="3.0" fill="#e31c25" stroke="#a8121a" stroke-width="0.8" opacity="1"/>
<circle cx="132.5" cy="730.8" r="3.0" fill="#e31c25" stroke="#a8121a" stroke-width="0.8" opacity="1"/>
<circle cx="132.5" cy="740.8" r="3.0" fill="#e31c25" stroke="#a8121a" stroke-width="0.8" opacity="1"/>
<circle cx="132.5" cy="749.2" r="3.0" fill="#e31c25" stroke="#a8121a" stroke-width="0.8" opacity="1"/>
<circle cx="132.5" cy="753.8" r="3.0" fill="#e31c25" stroke="#a8121a" stroke-width="0.8" opacity="1"/>
<circle cx="132.5" cy="762.9" r="3.0" fill="#e31c25" stroke="#a8121a" stroke-width="0.8" opacity="1"/>
<circle cx="132.5" cy="772.6" r="3.0" fill="#e31c25" stroke="#a8121a" stroke-width="0.8" opacity="1"/>
<circle cx="132.5" cy="790.2" r="3.0" fill="#e31c25" stroke="#a8121a" stroke-width="0.8" opacity="1"/>
<circle cx="132.5" cy="800.6" r="3.0" fill="#e31c25" stroke="#a8121a" stroke-width="0.8" opacity="1"/>
<circle cx="132.5" cy="803.2" r="3.0" fill="#e31c25" stroke="#a8121a" stroke-width="0.8" opacity="1"/>
<circle cx="132.5" cy="818.8" r="3.0" fill="#e31c25" stroke="#a8121a" stroke-width="0.8" opacity="1"/>
<circle cx="151.4" cy="712.3" r="3.0" fill="#e31c25" stroke="#a8121a" stroke-width="0.8" opacity="1"/>
<circle cx="151.4" cy="715.4" r="3.0" fill="#e31c25" stroke="#a8121a" stroke-width="0.8" opacity="1"/>
<circle cx="151.4" cy="724.3" r="3.0" fill="#e31c25" stroke="#a8121a" stroke-width="0.8" opacity="1"/>
<circle cx="151.4" cy="732.0" r="3.0" fill="#e31c25" stroke="#a8121a" stroke-width="0.8" opacity="1"/>
<circle cx="151.4" cy="740.8" r="3.0" fill="#e31c25" stroke="#a8121a" stroke-width="0.8" opacity="1"/>
<circle cx="151.4" cy="751.8" r="3.0" fill="#e31c25" stroke="#a8121a" stroke-width="0.8" opacity="1"/>
<circle cx="151.4" cy="756.4" r="3.0" fill="#e31c25" stroke="#a8121a" stroke-width="0.8" opacity="1"/>
<circle cx="151.4" cy="760.3" r="3.0" fill="#e31c25" stroke="#a8121a" stroke-width="0.8" opacity="1"/>
<circle cx="151.4" cy="774.6" r="3.0" fill="#e31c25" stroke="#a8121a" stroke-width="0.8" opacity="1"/>
<circle cx="151.4" cy="778.5" r="3.0" fill="#e31c25" stroke="#a8121a" stroke-width="0.8" opacity="1"/>
<circle cx="151.4" cy="792.8" r="3.0" fill="#e31c25" stroke="#a8121a" stroke-width="0.8" opacity="1"/>
<circle cx="170.2" cy="674.7" r="3.0" fill="#e31c25" stroke="#a8121a" stroke-width="0.8" opacity="1"/>
<circle cx="170.2" cy="678.6" r="3.0" fill="#e31c25" stroke="#a8121a" stroke-width="0.8" opacity="1"/>
<circle cx="170.2" cy="709.8" r="3.0" fill="#e31c25" stroke="#a8121a" stroke-width="0.8" opacity="1"/>
<circle cx="170.2" cy="717.6" r="3.0" fill="#e31c25" stroke="#a8121a" stroke-width="0.8" opacity="1"/>
<circle cx="170.2" cy="724.1" r="3.0" fill="#e31c25" stroke="#a8121a" stroke-width="0.8" opacity="1"/>
<circle cx="170.2" cy="731.2" r="3.0" fill="#e31c25" stroke="#a8121a" stroke-width="0.8" opacity="1"/>
<circle cx="170.2" cy="746.2" r="3.0" fill="#e31c25" stroke="#a8121a" stroke-width="0.8" opacity="1"/>
<circle cx="170.2" cy="757.2" r="3.0" fill="#e31c25" stroke="#a8121a" stroke-width="0.8" opacity="1"/>
<circle cx="170.2" cy="765.0" r="3.0" fill="#e31c25" stroke="#a8121a" stroke-width="0.8" opacity="1"/>
<circle cx="170.2" cy="770.9" r="3.0" fill="#e31c25" stroke="#a8121a" stroke-width="0.8" opacity="1"/>
<circle cx="170.2" cy="774.8" r="3.0" fill="#e31c25" stroke="#a8121a" stroke-width="0.8" opacity="1"/>
<circle cx="170.2" cy="778.7" r="3.0" fill="#e31c25" stroke="#a8121a" stroke-width="0.8" opacity="1"/>
<circle cx="170.2" cy="783.9" r="3.0" fill="#e31c25" stroke="#a8121a" stroke-width="0.8" opacity="1"/>
<circle cx="189.1" cy="663.6" r="3.0" fill="#e31c25" stroke="#a8121a" stroke-width="0.8" opacity="1"/>
<circle cx="189.1" cy="687.7" r="3.0" fill="#e31c25" stroke="#a8121a" stroke-width="0.8" opacity="1"/>
<circle cx="189.1" cy="692.9" r="3.0" fill="#e31c25" stroke="#a8121a" stroke-width="0.8" opacity="1"/>
<circle cx="189.1" cy="697.4" r="3.0" fill="#e31c25" stroke="#a8121a" stroke-width="0.8" opacity="1"/>
<circle cx="189.1" cy="705.2" r="3.0" fill="#e31c25" stroke="#a8121a" stroke-width="0.8" opacity="1"/>
<circle cx="189.1" cy="722.1" r="3.0" fill="#e31c25" stroke="#a8121a" stroke-width="0.8" opacity="1"/>
<circle cx="189.1" cy="738.4" r="3.0" fill="#e31c25" stroke="#a8121a" stroke-width="0.8" opacity="1"/>
<circle cx="189.1" cy="757.8" r="3.0" fill="#e31c25" stroke="#a8121a" stroke-width="0.8" opacity="1"/>
<circle cx="189.1" cy="760.5" r="3.0" fill="#e31c25" stroke="#a8121a" stroke-width="0.8" opacity="1"/>
<circle cx="189.1" cy="763.2" r="3.0" fill="#e31c25" stroke="#a8121a" stroke-width="0.8" opacity="1"/>
<circle cx="189.1" cy="766.0" r="3.0" fill="#e31c25" stroke="#a8121a" stroke-width="0.8" opacity="1"/>
<circle cx="189.1" cy="770.0" r="3.0" fill="#e31c25" stroke="#a8121a" stroke-width="0.8" opacity="1"/>
<circle cx="189.1" cy="772.8" r="3.0" fill="#e31c25" stroke="#a8121a" stroke-width="0.8" opacity="1"/>
<circle cx="208.0" cy="721.8" r="3.0" fill="#e31c25" stroke="#a8121a" stroke-width="0.8" opacity="1"/>
<circle cx="208.0" cy="731.6" r="3.0" fill="#e31c25" stroke="#a8121a" stroke-width="0.8" opacity="1"/>
<circle cx="208.0" cy="735.5" r="3.0" fill="#e31c25" stroke="#a8121a" stroke-width="0.8" opacity="1"/>
<circle cx="208.0" cy="740.0" r="3.0" fill="#e31c25" stroke="#a8121a" stroke-width="0.8" opacity="1"/>
<circle cx="208.0" cy="745.9" r="3.0" fill="#e31c25" stroke="#a8121a" stroke-width="0.8" opacity="1"/>
<circle cx="208.0" cy="759.5" r="3.0" fill="#e31c25" stroke="#a8121a" stroke-width="0.8" opacity="1"/>
<circle cx="208.0" cy="763.5" r="3.0" fill="#e31c25" stroke="#a8121a" stroke-width="0.8" opacity="1"/>
<circle cx="208.0" cy="767.5" r="3.0" fill="#e31c25" stroke="#a8121a" stroke-width="0.8" opacity="1"/>
<circle cx="208.0" cy="771.5" r="3.0" fill="#e31c25" stroke="#a8121a" stroke-width="0.8" opacity="1"/>
<circle cx="208.0" cy="775.0" r="3.0" fill="#e31c25" stroke="#a8121a" stroke-width="0.8" opacity="1"/>
<circle cx="208.0" cy="789.5" r="3.0" fill="#e31c25" stroke="#a8121a" stroke-width="0.8" opacity="1"/>
<circle cx="208.0" cy="794.5" r="3.0" fill="#e31c25" stroke="#a8121a" stroke-width="0.8" opacity="1"/>
<circle cx="226.9" cy="791.8" r="3.0" fill="#e31c25" stroke="#a8121a" stroke-width="0.8" opacity="1"/>
<circle cx="226.9" cy="801.0" r="3.0" fill="#e31c25" stroke="#a8121a" stroke-width="0.8" opacity="1"/>
<circle cx="226.9" cy="803.0" r="3.0" fill="#e31c25" stroke="#a8121a" stroke-width="0.8" opacity="1"/>
<circle cx="226.9" cy="810.6" r="3.0" fill="#e31c25" stroke="#a8121a" stroke-width="0.8" opacity="1"/>
<circle cx="226.9" cy="825.0" r="3.0" fill="#e31c25" stroke="#a8121a" stroke-width="0.8" opacity="1"/>
<circle cx="226.9" cy="834.0" r="3.0" fill="#e31c25" stroke="#a8121a" stroke-width="0.8" opacity="1"/>
<circle cx="226.9" cy="837.0" r="3.0" fill="#e31c25" stroke="#a8121a" stroke-width="0.8" opacity="1"/>
<circle cx="226.9" cy="840.0" r="3.0" fill="#e31c25" stroke="#a8121a" stroke-width="0.8" opacity="1"/>
<circle cx="226.9" cy="843.0" r="3.0" fill="#e31c25" stroke="#a8121a" stroke-width="0.8" opacity="1"/>
<circle cx="226.9" cy="846.0" r="3.0" fill="#e31c25" stroke="#a8121a" stroke-width="0.8" opacity="1"/>
<circle cx="226.9" cy="849.0" r="3.0" fill="#e31c25" stroke="#a8121a" stroke-width="0.8" opacity="1"/>
<circle cx="226.9" cy="852.0" r="3.0" fill="#e31c25" stroke="#a8121a" stroke-width="0.8" opacity="1"/>
<circle cx="226.9" cy="855.0" r="3.0" fill="#e31c25" stroke="#a8121a" stroke-width="0.8" opacity="1"/>
<circle cx="245.8" cy="660.1" r="3.0" fill="#e31c25" stroke="#a8121a" stroke-width="0.8" opacity="1"/>
<circle cx="245.8" cy="677.6" r="3.0" fill="#e31c25" stroke="#a8121a" stroke-width="0.8" opacity="1"/>
<circle cx="245.8" cy="683.1" r="3.0" fill="#e31c25" stroke="#a8121a" stroke-width="0.8" opacity="1"/>
<circle cx="245.8" cy="688.0" r="3.0" fill="#e31c25" stroke="#a8121a" stroke-width="0.8" opacity="1"/>
<circle cx="245.8" cy="692.0" r="3.0" fill="#e31c25" stroke="#a8121a" stroke-width="0.8" opacity="1"/>
<circle cx="245.8" cy="696.0" r="3.0" fill="#e31c25" stroke="#a8121a" stroke-width="0.8" opacity="1"/>
<circle cx="245.8" cy="700.0" r="3.0" fill="#e31c25" stroke="#a8121a" stroke-width="0.8" opacity="1"/>
<circle cx="245.8" cy="704.0" r="3.0" fill="#e31c25" stroke="#a8121a" stroke-width="0.8" opacity="1"/>
<circle cx="245.8" cy="708.0" r="3.0" fill="#e31c25" stroke="#a8121a" stroke-width="0.8" opacity="1"/>
<circle cx="245.8" cy="711.0" r="3.0" fill="#e31c25" stroke="#a8121a" stroke-width="0.8" opacity="1"/>
<circle cx="245.8" cy="713.7" r="3.0" fill="#e31c25" stroke="#a8121a" stroke-width="0.8" opacity="1"/>
<circle cx="245.8" cy="730.6" r="3.0" fill="#e31c25" stroke="#a8121a" stroke-width="0.8" opacity="1"/>
<circle cx="245.8" cy="734.5" r="3.0" fill="#e31c25" stroke="#a8121a" stroke-width="0.8" opacity="1"/>
<circle cx="302.4" cy="816.3" r="3.0" fill="#e31c25" stroke="#a8121a" stroke-width="0.8" opacity="1"/>
<circle cx="302.4" cy="819.5" r="3.0" fill="#e31c25" stroke="#a8121a" stroke-width="0.8" opacity="1"/>
<circle cx="302.4" cy="824.7" r="3.0" fill="#e31c25" stroke="#a8121a" stroke-width="0.8" opacity="1"/>
<circle cx="302.4" cy="852.0" r="3.0" fill="#e31c25" stroke="#a8121a" stroke-width="0.8" opacity="1"/>
<circle cx="302.4" cy="871.5" r="3.0" fill="#e31c25" stroke="#a8121a" stroke-width="0.8" opacity="1"/>
<circle cx="302.4" cy="884.5" r="3.0" fill="#e31c25" stroke="#a8121a" stroke-width="0.8" opacity="1"/>
<circle cx="302.4" cy="908.6" r="3.0" fill="#e31c25" stroke="#a8121a" stroke-width="0.8" opacity="1"/>
<circle cx="302.4" cy="911.8" r="3.0" fill="#e31c25" stroke="#a8121a" stroke-width="0.8" opacity="1"/>
<circle cx="302.4" cy="921.6" r="3.0" fill="#e31c25" stroke="#a8121a" stroke-width="0.8" opacity="1"/>
<circle cx="302.4" cy="924.8" r="3.0" fill="#e31c25" stroke="#a8121a" stroke-width="0.8" opacity="1"/>
<circle cx="302.4" cy="929.0" r="3.0" fill="#e31c25" stroke="#a8121a" stroke-width="0.8" opacity="1"/>
<circle cx="302.4" cy="933.0" r="3.0" fill="#e31c25" stroke="#a8121a" stroke-width="0.8" opacity="1"/>
<circle cx="302.4" cy="937.0" r="3.0" fill="#e31c25" stroke="#a8121a" stroke-width="0.8" opacity="1"/>
<circle cx="302.4" cy="958.3" r="3.0" fill="#e31c25" stroke="#a8121a" stroke-width="0.8" opacity="1"/>
<circle cx="302.4" cy="960.7" r="3.0" fill="#e31c25" stroke="#a8121a" stroke-width="0.8" opacity="1"/>
<circle cx="321.3" cy="883.2" r="3.0" fill="#e31c25" stroke="#a8121a" stroke-width="0.8" opacity="1"/>
<circle cx="321.3" cy="900.1" r="3.0" fill="#e31c25" stroke="#a8121a" stroke-width="0.8" opacity="1"/>
<circle cx="321.3" cy="918.3" r="3.0" fill="#e31c25" stroke="#a8121a" stroke-width="0.8" opacity="1"/>
<circle cx="321.3" cy="922.2" r="3.0" fill="#e31c25" stroke="#a8121a" stroke-width="0.8" opacity="1"/>
<circle cx="321.3" cy="924.8" r="3.0" fill="#e31c25" stroke="#a8121a" stroke-width="0.8" opacity="1"/>
<circle cx="321.3" cy="931.3" r="3.0" fill="#e31c25" stroke="#a8121a" stroke-width="0.8" opacity="1"/>
<circle cx="321.3" cy="936.5" r="3.0" fill="#e31c25" stroke="#a8121a" stroke-width="0.8" opacity="1"/>
<circle cx="321.3" cy="980.9" r="3.0" fill="#e31c25" stroke="#a8121a" stroke-width="0.8" opacity="1"/>
<circle cx="378.0" cy="826.0" r="3.0" fill="#e31c25" stroke="#a8121a" stroke-width="0.8" opacity="1"/>
<circle cx="378.0" cy="870.0" r="3.0" fill="#e31c25" stroke="#a8121a" stroke-width="0.8" opacity="1"/>
<circle cx="378.0" cy="883.6" r="3.0" fill="#e31c25" stroke="#a8121a" stroke-width="0.8" opacity="1"/>
<circle cx="396.9" cy="876.0" r="3.0" fill="#e31c25" stroke="#a8121a" stroke-width="0.8" opacity="1"/>
<circle cx="396.9" cy="896.0" r="3.0" fill="#e31c25" stroke="#a8121a" stroke-width="0.8" opacity="1"/>
<circle cx="396.9" cy="922.6" r="3.0" fill="#e31c25" stroke="#a8121a" stroke-width="0.8" opacity="1"/>
<circle cx="415.8" cy="880.2" r="3.0" fill="#e31c25" stroke="#a8121a" stroke-width="0.8" opacity="1"/>
<circle cx="415.8" cy="903.6" r="3.0" fill="#e31c25" stroke="#a8121a" stroke-width="0.8" opacity="1"/>
<circle cx="415.8" cy="931.5" r="3.0" fill="#e31c25" stroke="#a8121a" stroke-width="0.8" opacity="1"/>
<circle cx="415.8" cy="953.0" r="3.0" fill="#e31c25" stroke="#a8121a" stroke-width="0.8" opacity="1"/>
<circle cx="415.8" cy="968.0" r="3.0" fill="#e31c25" stroke="#a8121a" stroke-width="0.8" opacity="1"/>
<circle cx="434.6" cy="855.5" r="3.0" fill="#e31c25" stroke="#a8121a" stroke-width="0.8" opacity="1"/>
<circle cx="434.6" cy="858.8" r="3.0" fill="#e31c25" stroke="#a8121a" stroke-width="0.8" opacity="1"/>
<circle cx="434.6" cy="893.9" r="3.0" fill="#e31c25" stroke="#a8121a" stroke-width="0.8" opacity="1"/>
<circle cx="434.6" cy="897.8" r="3.0" fill="#e31c25" stroke="#a8121a" stroke-width="0.8" opacity="1"/>
<circle cx="434.6" cy="901.7" r="3.0" fill="#e31c25" stroke="#a8121a" stroke-width="0.8" opacity="1"/>
<circle cx="434.6" cy="905.6" r="3.0" fill="#e31c25" stroke="#a8121a" stroke-width="0.8" opacity="1"/>
<circle cx="434.6" cy="909.5" r="3.0" fill="#e31c25" stroke="#a8121a" stroke-width="0.8" opacity="1"/>
<circle cx="434.6" cy="924.6" r="3.0" fill="#e31c25" stroke="#a8121a" stroke-width="0.8" opacity="1"/>
<circle cx="434.6" cy="929.2" r="3.0" fill="#e31c25" stroke="#a8121a" stroke-width="0.8" opacity="1"/>
<circle cx="434.6" cy="932.3" r="3.0" fill="#e31c25" stroke="#a8121a" stroke-width="0.8" opacity="1"/>
<circle cx="434.6" cy="970.8" r="3.0" fill="#e31c25" stroke="#a8121a" stroke-width="0.8" opacity="1"/>
<circle cx="434.6" cy="989.0" r="3.0" fill="#e31c25" stroke="#a8121a" stroke-width="0.8" opacity="1"/>
<circle cx="434.6" cy="994.0" r="3.0" fill="#e31c25" stroke="#a8121a" stroke-width="0.8" opacity="1"/>
<circle cx="453.5" cy="835.7" r="3.0" fill="#e31c25" stroke="#a8121a" stroke-width="0.8" opacity="1"/>
<circle cx="453.5" cy="844.2" r="3.0" fill="#e31c25" stroke="#a8121a" stroke-width="0.8" opacity="1"/>
<circle cx="453.5" cy="855.5" r="3.0" fill="#e31c25" stroke="#a8121a" stroke-width="0.8" opacity="1"/>
<circle cx="453.5" cy="887.0" r="3.0" fill="#e31c25" stroke="#a8121a" stroke-width="0.8" opacity="1"/>
<circle cx="453.5" cy="891.0" r="3.0" fill="#e31c25" stroke="#a8121a" stroke-width="0.8" opacity="1"/>
<circle cx="453.5" cy="891.5" r="3.0" fill="#e31c25" stroke="#a8121a" stroke-width="0.8" opacity="1"/>
<circle cx="453.5" cy="897.5" r="3.0" fill="#e31c25" stroke="#a8121a" stroke-width="0.8" opacity="1"/>
<circle cx="453.5" cy="898.0" r="3.0" fill="#e31c25" stroke="#a8121a" stroke-width="0.8" opacity="1"/>
<circle cx="453.5" cy="916.2" r="3.0" fill="#e31c25" stroke="#a8121a" stroke-width="0.8" opacity="1"/>
<circle cx="453.5" cy="947.0" r="3.0" fill="#e31c25" stroke="#a8121a" stroke-width="0.8" opacity="1"/>
<circle cx="453.5" cy="961.2" r="3.0" fill="#e31c25" stroke="#a8121a" stroke-width="0.8" opacity="1"/>
<circle cx="453.5" cy="973.2" r="3.0" fill="#e31c25" stroke="#a8121a" stroke-width="0.8" opacity="1"/>
<circle cx="472.4" cy="881.8" r="3.0" fill="#e31c25" stroke="#a8121a" stroke-width="0.8" opacity="1"/>
<circle cx="472.4" cy="890.0" r="3.0" fill="#e31c25" stroke="#a8121a" stroke-width="0.8" opacity="1"/>
<circle cx="472.4" cy="891.0" r="3.0" fill="#e31c25" stroke="#a8121a" stroke-width="0.8" opacity="1"/>
<circle cx="472.4" cy="896.7" r="3.0" fill="#e31c25" stroke="#a8121a" stroke-width="0.8" opacity="1"/>
<circle cx="472.4" cy="901.0" r="3.0" fill="#e31c25" stroke="#a8121a" stroke-width="0.8" opacity="1"/>
<circle cx="472.4" cy="917.0" r="3.0" fill="#e31c25" stroke="#a8121a" stroke-width="0.8" opacity="1"/>
<circle cx="472.4" cy="920.0" r="3.0" fill="#e31c25" stroke="#a8121a" stroke-width="0.8" opacity="1"/>
<circle cx="491.3" cy="832.3" r="3.0" fill="#e31c25" stroke="#a8121a" stroke-width="0.8" opacity="1"/>
<circle cx="491.3" cy="835.3" r="3.0" fill="#e31c25" stroke="#a8121a" stroke-width="0.8" opacity="1"/>
<circle cx="491.3" cy="847.2" r="3.0" fill="#e31c25" stroke="#a8121a" stroke-width="0.8" opacity="1"/>
<circle cx="491.3" cy="875.0" r="3.0" fill="#e31c25" stroke="#a8121a" stroke-width="0.8" opacity="1"/>
<circle cx="491.3" cy="903.5" r="3.0" fill="#e31c25" stroke="#a8121a" stroke-width="0.8" opacity="1"/>
<circle cx="491.3" cy="926.0" r="3.0" fill="#e31c25" stroke="#a8121a" stroke-width="0.8" opacity="1"/>
<circle cx="491.3" cy="932.0" r="3.0" fill="#e31c25" stroke="#a8121a" stroke-width="0.8" opacity="1"/>
<circle cx="491.3" cy="938.0" r="3.0" fill="#e31c25" stroke="#a8121a" stroke-width="0.8" opacity="1"/>
<circle cx="491.3" cy="945.5" r="3.0" fill="#e31c25" stroke="#a8121a" stroke-width="0.8" opacity="1"/>
<circle cx="491.3" cy="951.5" r="3.0" fill="#e31c25" stroke="#a8121a" stroke-width="0.8" opacity="1"/>
<circle cx="491.3" cy="956.8" r="3.0" fill="#e31c25" stroke="#a8121a" stroke-width="0.8" opacity="1"/>
<circle cx="491.3" cy="966.5" r="3.0" fill="#e31c25" stroke="#a8121a" stroke-width="0.8" opacity="1"/>
<circle cx="491.3" cy="969.5" r="3.0" fill="#e31c25" stroke="#a8121a" stroke-width="0.8" opacity="1"/>
<circle cx="510.2" cy="836.0" r="3.0" fill="#e31c25" stroke="#a8121a" stroke-width="0.8" opacity="1"/>
<circle cx="510.2" cy="842.0" r="3.0" fill="#e31c25" stroke="#a8121a" stroke-width="0.8" opacity="1"/>
<circle cx="510.2" cy="845.0" r="3.0" fill="#e31c25" stroke="#a8121a" stroke-width="0.8" opacity="1"/>
<circle cx="510.2" cy="881.8" r="3.0" fill="#e31c25" stroke="#a8121a" stroke-width="0.8" opacity="1"/>
<circle cx="510.2" cy="885.5" r="3.0" fill="#e31c25" stroke="#a8121a" stroke-width="0.8" opacity="1"/>
<circle cx="510.2" cy="891.5" r="3.0" fill="#e31c25" stroke="#a8121a" stroke-width="0.8" opacity="1"/>
<circle cx="510.2" cy="896.7" r="3.0" fill="#e31c25" stroke="#a8121a" stroke-width="0.8" opacity="1"/>
<circle cx="510.2" cy="897.5" r="3.0" fill="#e31c25" stroke="#a8121a" stroke-width="0.8" opacity="1"/>
<circle cx="510.2" cy="921.5" r="3.0" fill="#e31c25" stroke="#a8121a" stroke-width="0.8" opacity="1"/>
<circle cx="510.2" cy="998.0" r="3.0" fill="#e31c25" stroke="#a8121a" stroke-width="0.8" opacity="1"/>
<circle cx="94.7" cy="749.6" r="3.0" fill="none" stroke="#141414" stroke-width="1.4"/>
<circle cx="94.7" cy="761.6" r="3.0" fill="none" stroke="#141414" stroke-width="1.4"/>
<circle cx="94.7" cy="804.5" r="3.0" fill="none" stroke="#141414" stroke-width="1.4"/>
<circle cx="94.7" cy="831.1" r="3.0" fill="none" stroke="#141414" stroke-width="1.4"/>
<circle cx="94.7" cy="835.7" r="3.0" fill="none" stroke="#141414" stroke-width="1.4"/>
<circle cx="94.7" cy="838.9" r="3.0" fill="none" stroke="#141414" stroke-width="1.4"/>
<circle cx="94.7" cy="861.0" r="3.0" fill="none" stroke="#141414" stroke-width="1.4"/>
<circle cx="94.7" cy="864.3" r="3.0" fill="none" stroke="#141414" stroke-width="1.4"/>
<circle cx="94.7" cy="866.5" r="3.0" fill="none" stroke="#141414" stroke-width="1.4"/>
<circle cx="94.7" cy="868.2" r="3.0" fill="none" stroke="#141414" stroke-width="1.4"/>
<circle cx="94.7" cy="870.4" r="3.0" fill="none" stroke="#141414" stroke-width="1.4"/>
<circle cx="94.7" cy="876.2" r="3.0" fill="none" stroke="#141414" stroke-width="1.4"/>
<circle cx="94.7" cy="884.4" r="3.0" fill="none" stroke="#141414" stroke-width="1.4"/>
<circle cx="94.7" cy="888.0" r="3.0" fill="none" stroke="#141414" stroke-width="1.4"/>
<circle cx="94.7" cy="891.8" r="3.0" fill="none" stroke="#141414" stroke-width="1.4"/>
<circle cx="94.7" cy="895.7" r="3.0" fill="none" stroke="#141414" stroke-width="1.4"/>
<circle cx="94.7" cy="899.6" r="3.0" fill="none" stroke="#141414" stroke-width="1.4"/>
<circle cx="94.7" cy="910.7" r="3.0" fill="none" stroke="#141414" stroke-width="1.4"/>
<circle cx="94.7" cy="917.2" r="3.0" fill="none" stroke="#141414" stroke-width="1.4"/>
<circle cx="94.7" cy="921.1" r="3.0" fill="none" stroke="#141414" stroke-width="1.4"/>
<circle cx="94.7" cy="927.6" r="3.0" fill="none" stroke="#141414" stroke-width="1.4"/>
<circle cx="94.7" cy="962.7" r="3.0" fill="none" stroke="#141414" stroke-width="1.4"/>
<circle cx="113.6" cy="783.0" r="3.0" fill="none" stroke="#141414" stroke-width="1.4"/>
<circle cx="113.6" cy="801.9" r="3.0" fill="none" stroke="#141414" stroke-width="1.4"/>
<circle cx="113.6" cy="814.9" r="3.0" fill="none" stroke="#141414" stroke-width="1.4"/>
<circle cx="113.6" cy="821.4" r="3.0" fill="none" stroke="#141414" stroke-width="1.4"/>
<circle cx="113.6" cy="829.8" r="3.0" fill="none" stroke="#141414" stroke-width="1.4"/>
<circle cx="113.6" cy="837.0" r="3.0" fill="none" stroke="#141414" stroke-width="1.4"/>
<circle cx="113.6" cy="850.0" r="3.0" fill="none" stroke="#141414" stroke-width="1.4"/>
<circle cx="113.6" cy="853.9" r="3.0" fill="none" stroke="#141414" stroke-width="1.4"/>
<circle cx="113.6" cy="868.2" r="3.0" fill="none" stroke="#141414" stroke-width="1.4"/>
<circle cx="113.6" cy="869.1" r="3.0" fill="none" stroke="#141414" stroke-width="1.4"/>
<circle cx="113.6" cy="873.0" r="3.0" fill="none" stroke="#141414" stroke-width="1.4"/>
<circle cx="113.6" cy="876.9" r="3.0" fill="none" stroke="#141414" stroke-width="1.4"/>
<circle cx="113.6" cy="880.8" r="3.0" fill="none" stroke="#141414" stroke-width="1.4"/>
<circle cx="113.6" cy="889.9" r="3.0" fill="none" stroke="#141414" stroke-width="1.4"/>
<circle cx="113.6" cy="893.8" r="3.0" fill="none" stroke="#141414" stroke-width="1.4"/>
<circle cx="113.6" cy="897.7" r="3.0" fill="none" stroke="#141414" stroke-width="1.4"/>
<circle cx="113.6" cy="901.6" r="3.0" fill="none" stroke="#141414" stroke-width="1.4"/>
<circle cx="113.6" cy="910.7" r="3.0" fill="none" stroke="#141414" stroke-width="1.4"/>
<circle cx="113.6" cy="919.1" r="3.0" fill="none" stroke="#141414" stroke-width="1.4"/>
<circle cx="113.6" cy="922.4" r="3.0" fill="none" stroke="#141414" stroke-width="1.4"/>
<circle cx="113.6" cy="928.2" r="3.0" fill="none" stroke="#141414" stroke-width="1.4"/>
<circle cx="113.6" cy="934.1" r="3.0" fill="none" stroke="#141414" stroke-width="1.4"/>
<circle cx="113.6" cy="939.3" r="3.0" fill="none" stroke="#141414" stroke-width="1.4"/>
<circle cx="113.6" cy="943.2" r="3.0" fill="none" stroke="#141414" stroke-width="1.4"/>
<circle cx="132.5" cy="726.2" r="3.0" fill="none" stroke="#141414" stroke-width="1.4"/>
<circle cx="132.5" cy="762.9" r="3.0" fill="none" stroke="#141414" stroke-width="1.4"/>
<circle cx="132.5" cy="790.2" r="3.0" fill="none" stroke="#141414" stroke-width="1.4"/>
<circle cx="132.5" cy="795.4" r="3.0" fill="none" stroke="#141414" stroke-width="1.4"/>
<circle cx="132.5" cy="809.7" r="3.0" fill="none" stroke="#141414" stroke-width="1.4"/>
<circle cx="132.5" cy="813.6" r="3.0" fill="none" stroke="#141414" stroke-width="1.4"/>
<circle cx="132.5" cy="818.8" r="3.0" fill="none" stroke="#141414" stroke-width="1.4"/>
<circle cx="132.5" cy="822.7" r="3.0" fill="none" stroke="#141414" stroke-width="1.4"/>
<circle cx="132.5" cy="830.5" r="3.0" fill="none" stroke="#141414" stroke-width="1.4"/>
<circle cx="132.5" cy="835.7" r="3.0" fill="none" stroke="#141414" stroke-width="1.4"/>
<circle cx="132.5" cy="839.6" r="3.0" fill="none" stroke="#141414" stroke-width="1.4"/>
<circle cx="132.5" cy="843.5" r="3.0" fill="none" stroke="#141414" stroke-width="1.4"/>
<circle cx="132.5" cy="850.0" r="3.0" fill="none" stroke="#141414" stroke-width="1.4"/>
<circle cx="132.5" cy="853.9" r="3.0" fill="none" stroke="#141414" stroke-width="1.4"/>
<circle cx="132.5" cy="857.8" r="3.0" fill="none" stroke="#141414" stroke-width="1.4"/>
<circle cx="132.5" cy="861.7" r="3.0" fill="none" stroke="#141414" stroke-width="1.4"/>
<circle cx="132.5" cy="865.6" r="3.0" fill="none" stroke="#141414" stroke-width="1.4"/>
<circle cx="132.5" cy="868.8" r="3.0" fill="none" stroke="#141414" stroke-width="1.4"/>
<circle cx="132.5" cy="871.0" r="3.0" fill="none" stroke="#141414" stroke-width="1.4"/>
<circle cx="132.5" cy="875.0" r="3.0" fill="none" stroke="#141414" stroke-width="1.4"/>
<circle cx="132.5" cy="897.0" r="3.0" fill="none" stroke="#141414" stroke-width="1.4"/>
<circle cx="132.5" cy="906.1" r="3.0" fill="none" stroke="#141414" stroke-width="1.4"/>
<circle cx="132.5" cy="909.4" r="3.0" fill="none" stroke="#141414" stroke-width="1.4"/>
<circle cx="132.5" cy="913.3" r="3.0" fill="none" stroke="#141414" stroke-width="1.4"/>
<circle cx="132.5" cy="917.8" r="3.0" fill="none" stroke="#141414" stroke-width="1.4"/>
<circle cx="132.5" cy="921.7" r="3.0" fill="none" stroke="#141414" stroke-width="1.4"/>
<circle cx="132.5" cy="933.4" r="3.0" fill="none" stroke="#141414" stroke-width="1.4"/>
<circle cx="132.5" cy="941.2" r="3.0" fill="none" stroke="#141414" stroke-width="1.4"/>
<circle cx="132.5" cy="1005.6" r="3.0" fill="none" stroke="#141414" stroke-width="1.4"/>
<circle cx="151.4" cy="724.3" r="3.0" fill="none" stroke="#141414" stroke-width="1.4"/>
<circle cx="151.4" cy="732.0" r="3.0" fill="none" stroke="#141414" stroke-width="1.4"/>
<circle cx="151.4" cy="763.5" r="3.0" fill="none" stroke="#141414" stroke-width="1.4"/>
<circle cx="151.4" cy="774.6" r="3.0" fill="none" stroke="#141414" stroke-width="1.4"/>
<circle cx="151.4" cy="778.5" r="3.0" fill="none" stroke="#141414" stroke-width="1.4"/>
<circle cx="151.4" cy="798.0" r="3.0" fill="none" stroke="#141414" stroke-width="1.4"/>
<circle cx="151.4" cy="800.6" r="3.0" fill="none" stroke="#141414" stroke-width="1.4"/>
<circle cx="151.4" cy="808.4" r="3.0" fill="none" stroke="#141414" stroke-width="1.4"/>
<circle cx="151.4" cy="812.3" r="3.0" fill="none" stroke="#141414" stroke-width="1.4"/>
<circle cx="151.4" cy="816.2" r="3.0" fill="none" stroke="#141414" stroke-width="1.4"/>
<circle cx="151.4" cy="820.1" r="3.0" fill="none" stroke="#141414" stroke-width="1.4"/>
<circle cx="151.4" cy="838.3" r="3.0" fill="none" stroke="#141414" stroke-width="1.4"/>
<circle cx="151.4" cy="846.1" r="3.0" fill="none" stroke="#141414" stroke-width="1.4"/>
<circle cx="151.4" cy="850.0" r="3.0" fill="none" stroke="#141414" stroke-width="1.4"/>
<circle cx="151.4" cy="853.9" r="3.0" fill="none" stroke="#141414" stroke-width="1.4"/>
<circle cx="151.4" cy="860.4" r="3.0" fill="none" stroke="#141414" stroke-width="1.4"/>
<circle cx="151.4" cy="862.0" r="3.0" fill="none" stroke="#141414" stroke-width="1.4"/>
<circle cx="151.4" cy="864.3" r="3.0" fill="none" stroke="#141414" stroke-width="1.4"/>
<circle cx="151.4" cy="866.0" r="3.0" fill="none" stroke="#141414" stroke-width="1.4"/>
<circle cx="151.4" cy="868.2" r="3.0" fill="none" stroke="#141414" stroke-width="1.4"/>
<circle cx="151.4" cy="870.0" r="3.0" fill="none" stroke="#141414" stroke-width="1.4"/>
<circle cx="151.4" cy="877.5" r="3.0" fill="none" stroke="#141414" stroke-width="1.4"/>
<circle cx="151.4" cy="888.0" r="3.0" fill="none" stroke="#141414" stroke-width="1.4"/>
<circle cx="151.4" cy="921.1" r="3.0" fill="none" stroke="#141414" stroke-width="1.4"/>
<circle cx="170.2" cy="724.1" r="3.0" fill="none" stroke="#141414" stroke-width="1.4"/>
<circle cx="170.2" cy="736.4" r="3.0" fill="none" stroke="#141414" stroke-width="1.4"/>
<circle cx="170.2" cy="752.0" r="3.0" fill="none" stroke="#141414" stroke-width="1.4"/>
<circle cx="170.2" cy="765.0" r="3.0" fill="none" stroke="#141414" stroke-width="1.4"/>
<circle cx="170.2" cy="778.7" r="3.0" fill="none" stroke="#141414" stroke-width="1.4"/>
<circle cx="170.2" cy="788.4" r="3.0" fill="none" stroke="#141414" stroke-width="1.4"/>
<circle cx="170.2" cy="796.9" r="3.0" fill="none" stroke="#141414" stroke-width="1.4"/>
<circle cx="170.2" cy="800.4" r="3.0" fill="none" stroke="#141414" stroke-width="1.4"/>
<circle cx="170.2" cy="804.3" r="3.0" fill="none" stroke="#141414" stroke-width="1.4"/>
<circle cx="170.2" cy="810.8" r="3.0" fill="none" stroke="#141414" stroke-width="1.4"/>
<circle cx="170.2" cy="814.7" r="3.0" fill="none" stroke="#141414" stroke-width="1.4"/>
<circle cx="170.2" cy="822.5" r="3.0" fill="none" stroke="#141414" stroke-width="1.4"/>
<circle cx="170.2" cy="826.4" r="3.0" fill="none" stroke="#141414" stroke-width="1.4"/>
<circle cx="170.2" cy="830.3" r="3.0" fill="none" stroke="#141414" stroke-width="1.4"/>
<circle cx="170.2" cy="835.5" r="3.0" fill="none" stroke="#141414" stroke-width="1.4"/>
<circle cx="170.2" cy="843.3" r="3.0" fill="none" stroke="#141414" stroke-width="1.4"/>
<circle cx="170.2" cy="847.2" r="3.0" fill="none" stroke="#141414" stroke-width="1.4"/>
<circle cx="170.2" cy="851.1" r="3.0" fill="none" stroke="#141414" stroke-width="1.4"/>
<circle cx="170.2" cy="855.6" r="3.0" fill="none" stroke="#141414" stroke-width="1.4"/>
<circle cx="170.2" cy="873.8" r="3.0" fill="none" stroke="#141414" stroke-width="1.4"/>
<circle cx="170.2" cy="881.0" r="3.0" fill="none" stroke="#141414" stroke-width="1.4"/>
<circle cx="170.2" cy="886.8" r="3.0" fill="none" stroke="#141414" stroke-width="1.4"/>
<circle cx="170.2" cy="891.4" r="3.0" fill="none" stroke="#141414" stroke-width="1.4"/>
<circle cx="189.1" cy="663.6" r="3.0" fill="none" stroke="#141414" stroke-width="1.4"/>
<circle cx="189.1" cy="726.7" r="3.0" fill="none" stroke="#141414" stroke-width="1.4"/>
<circle cx="189.1" cy="733.2" r="3.0" fill="none" stroke="#141414" stroke-width="1.4"/>
<circle cx="189.1" cy="741.6" r="3.0" fill="none" stroke="#141414" stroke-width="1.4"/>
<circle cx="189.1" cy="757.8" r="3.0" fill="none" stroke="#141414" stroke-width="1.4"/>
<circle cx="189.1" cy="760.5" r="3.0" fill="none" stroke="#141414" stroke-width="1.4"/>
<circle cx="189.1" cy="763.2" r="3.0" fill="none" stroke="#141414" stroke-width="1.4"/>
<circle cx="189.1" cy="766.0" r="3.0" fill="none" stroke="#141414" stroke-width="1.4"/>
<circle cx="189.1" cy="777.0" r="3.0" fill="none" stroke="#141414" stroke-width="1.4"/>
<circle cx="189.1" cy="779.2" r="3.0" fill="none" stroke="#141414" stroke-width="1.4"/>
<circle cx="189.1" cy="781.4" r="3.0" fill="none" stroke="#141414" stroke-width="1.4"/>
<circle cx="189.1" cy="783.6" r="3.0" fill="none" stroke="#141414" stroke-width="1.4"/>
<circle cx="189.1" cy="785.8" r="3.0" fill="none" stroke="#141414" stroke-width="1.4"/>
<circle cx="189.1" cy="788.0" r="3.0" fill="none" stroke="#141414" stroke-width="1.4"/>
<circle cx="189.1" cy="790.2" r="3.0" fill="none" stroke="#141414" stroke-width="1.4"/>
<circle cx="189.1" cy="792.4" r="3.0" fill="none" stroke="#141414" stroke-width="1.4"/>
<circle cx="189.1" cy="794.6" r="3.0" fill="none" stroke="#141414" stroke-width="1.4"/>
<circle cx="189.1" cy="796.8" r="3.0" fill="none" stroke="#141414" stroke-width="1.4"/>
<circle cx="189.1" cy="799.0" r="3.0" fill="none" stroke="#141414" stroke-width="1.4"/>
<circle cx="189.1" cy="801.2" r="3.0" fill="none" stroke="#141414" stroke-width="1.4"/>
<circle cx="189.1" cy="803.4" r="3.0" fill="none" stroke="#141414" stroke-width="1.4"/>
<circle cx="189.1" cy="805.6" r="3.0" fill="none" stroke="#141414" stroke-width="1.4"/>
<circle cx="189.1" cy="807.8" r="3.0" fill="none" stroke="#141414" stroke-width="1.4"/>
<circle cx="189.1" cy="812.4" r="3.0" fill="none" stroke="#141414" stroke-width="1.4"/>
<circle cx="189.1" cy="819.7" r="3.0" fill="none" stroke="#141414" stroke-width="1.4"/>
<circle cx="208.0" cy="712.7" r="3.0" fill="none" stroke="#141414" stroke-width="1.4"/>
<circle cx="208.0" cy="721.8" r="3.0" fill="none" stroke="#141414" stroke-width="1.4"/>
<circle cx="208.0" cy="756.3" r="3.0" fill="none" stroke="#141414" stroke-width="1.4"/>
<circle cx="208.0" cy="782.3" r="3.0" fill="none" stroke="#141414" stroke-width="1.4"/>
<circle cx="208.0" cy="789.5" r="3.0" fill="none" stroke="#141414" stroke-width="1.4"/>
<circle cx="208.0" cy="794.5" r="3.0" fill="none" stroke="#141414" stroke-width="1.4"/>
<circle cx="208.0" cy="799.0" r="3.0" fill="none" stroke="#141414" stroke-width="1.4"/>
<circle cx="208.0" cy="802.5" r="3.0" fill="none" stroke="#141414" stroke-width="1.4"/>
<circle cx="208.0" cy="806.0" r="3.0" fill="none" stroke="#141414" stroke-width="1.4"/>
<circle cx="208.0" cy="813.2" r="3.0" fill="none" stroke="#141414" stroke-width="1.4"/>
<circle cx="208.0" cy="818.8" r="3.0" fill="none" stroke="#141414" stroke-width="1.4"/>
<circle cx="208.0" cy="822.0" r="3.0" fill="none" stroke="#141414" stroke-width="1.4"/>
<circle cx="208.0" cy="825.0" r="3.0" fill="none" stroke="#141414" stroke-width="1.4"/>
<circle cx="208.0" cy="829.9" r="3.0" fill="none" stroke="#141414" stroke-width="1.4"/>
<circle cx="208.0" cy="835.4" r="3.0" fill="none" stroke="#141414" stroke-width="1.4"/>
<circle cx="208.0" cy="839.6" r="3.0" fill="none" stroke="#141414" stroke-width="1.4"/>
<circle cx="208.0" cy="843.7" r="3.0" fill="none" stroke="#141414" stroke-width="1.4"/>
<circle cx="208.0" cy="848.6" r="3.0" fill="none" stroke="#141414" stroke-width="1.4"/>
<circle cx="208.0" cy="853.4" r="3.0" fill="none" stroke="#141414" stroke-width="1.4"/>
<circle cx="208.0" cy="855.1" r="3.0" fill="none" stroke="#141414" stroke-width="1.4"/>
<circle cx="208.0" cy="867.0" r="3.0" fill="none" stroke="#141414" stroke-width="1.4"/>
<circle cx="208.0" cy="873.6" r="3.0" fill="none" stroke="#141414" stroke-width="1.4"/>
<circle cx="208.0" cy="878.5" r="3.0" fill="none" stroke="#141414" stroke-width="1.4"/>
<circle cx="208.0" cy="930.1" r="3.0" fill="none" stroke="#141414" stroke-width="1.4"/>
<circle cx="226.9" cy="750.4" r="3.0" fill="none" stroke="#141414" stroke-width="1.4"/>
<circle cx="226.9" cy="781.5" r="3.0" fill="none" stroke="#141414" stroke-width="1.4"/>
<circle cx="226.9" cy="818.5" r="3.0" fill="none" stroke="#141414" stroke-width="1.4"/>
<circle cx="226.9" cy="834.0" r="3.0" fill="none" stroke="#141414" stroke-width="1.4"/>
<circle cx="226.9" cy="837.0" r="3.0" fill="none" stroke="#141414" stroke-width="1.4"/>
<circle cx="226.9" cy="840.0" r="3.0" fill="none" stroke="#141414" stroke-width="1.4"/>
<circle cx="226.9" cy="843.0" r="3.0" fill="none" stroke="#141414" stroke-width="1.4"/>
<circle cx="226.9" cy="846.0" r="3.0" fill="none" stroke="#141414" stroke-width="1.4"/>
<circle cx="226.9" cy="849.0" r="3.0" fill="none" stroke="#141414" stroke-width="1.4"/>
<circle cx="226.9" cy="852.0" r="3.0" fill="none" stroke="#141414" stroke-width="1.4"/>
<circle cx="226.9" cy="855.0" r="3.0" fill="none" stroke="#141414" stroke-width="1.4"/>
<circle cx="226.9" cy="858.0" r="3.0" fill="none" stroke="#141414" stroke-width="1.4"/>
<circle cx="226.9" cy="861.0" r="3.0" fill="none" stroke="#141414" stroke-width="1.4"/>
<circle cx="226.9" cy="864.0" r="3.0" fill="none" stroke="#141414" stroke-width="1.4"/>
<circle cx="226.9" cy="867.0" r="3.0" fill="none" stroke="#141414" stroke-width="1.4"/>
<circle cx="226.9" cy="870.0" r="3.0" fill="none" stroke="#141414" stroke-width="1.4"/>
<circle cx="226.9" cy="873.0" r="3.0" fill="none" stroke="#141414" stroke-width="1.4"/>
<circle cx="226.9" cy="876.0" r="3.0" fill="none" stroke="#141414" stroke-width="1.4"/>
<circle cx="226.9" cy="879.0" r="3.0" fill="none" stroke="#141414" stroke-width="1.4"/>
<circle cx="226.9" cy="883.3" r="3.0" fill="none" stroke="#141414" stroke-width="1.4"/>
<circle cx="245.8" cy="683.1" r="3.0" fill="none" stroke="#141414" stroke-width="1.4"/>
<circle cx="245.8" cy="713.7" r="3.0" fill="none" stroke="#141414" stroke-width="1.4"/>
<circle cx="245.8" cy="717.6" r="3.0" fill="none" stroke="#141414" stroke-width="1.4"/>
<circle cx="245.8" cy="721.5" r="3.0" fill="none" stroke="#141414" stroke-width="1.4"/>
<circle cx="245.8" cy="726.7" r="3.0" fill="none" stroke="#141414" stroke-width="1.4"/>
<circle cx="245.8" cy="738.0" r="3.0" fill="none" stroke="#141414" stroke-width="1.4"/>
<circle cx="245.8" cy="740.5" r="3.0" fill="none" stroke="#141414" stroke-width="1.4"/>
<circle cx="245.8" cy="743.0" r="3.0" fill="none" stroke="#141414" stroke-width="1.4"/>
<circle cx="245.8" cy="745.5" r="3.0" fill="none" stroke="#141414" stroke-width="1.4"/>
<circle cx="245.8" cy="748.0" r="3.0" fill="none" stroke="#141414" stroke-width="1.4"/>
<circle cx="245.8" cy="750.5" r="3.0" fill="none" stroke="#141414" stroke-width="1.4"/>
<circle cx="245.8" cy="753.0" r="3.0" fill="none" stroke="#141414" stroke-width="1.4"/>
<circle cx="245.8" cy="755.5" r="3.0" fill="none" stroke="#141414" stroke-width="1.4"/>
<circle cx="245.8" cy="758.0" r="3.0" fill="none" stroke="#141414" stroke-width="1.4"/>
<circle cx="245.8" cy="760.5" r="3.0" fill="none" stroke="#141414" stroke-width="1.4"/>
<circle cx="245.8" cy="763.0" r="3.0" fill="none" stroke="#141414" stroke-width="1.4"/>
<circle cx="245.8" cy="766.0" r="3.0" fill="none" stroke="#141414" stroke-width="1.4"/>
<circle cx="245.8" cy="770.2" r="3.0" fill="none" stroke="#141414" stroke-width="1.4"/>
<circle cx="245.8" cy="778.2" r="3.0" fill="none" stroke="#141414" stroke-width="1.4"/>
<circle cx="245.8" cy="780.4" r="3.0" fill="none" stroke="#141414" stroke-width="1.4"/>
<circle cx="245.8" cy="786.2" r="3.0" fill="none" stroke="#141414" stroke-width="1.4"/>
<circle cx="245.8" cy="792.1" r="3.0" fill="none" stroke="#141414" stroke-width="1.4"/>
<circle cx="245.8" cy="797.6" r="3.0" fill="none" stroke="#141414" stroke-width="1.4"/>
<circle cx="245.8" cy="802.8" r="3.0" fill="none" stroke="#141414" stroke-width="1.4"/>
<circle cx="245.8" cy="812.4" r="3.0" fill="none" stroke="#141414" stroke-width="1.4"/>
<circle cx="245.8" cy="819.8" r="3.0" fill="none" stroke="#141414" stroke-width="1.4"/>
<circle cx="302.4" cy="816.3" r="3.0" fill="none" stroke="#141414" stroke-width="1.4"/>
<circle cx="302.4" cy="835.8" r="3.0" fill="none" stroke="#141414" stroke-width="1.4"/>
<circle cx="302.4" cy="855.3" r="3.0" fill="none" stroke="#141414" stroke-width="1.4"/>
<circle cx="302.4" cy="861.8" r="3.0" fill="none" stroke="#141414" stroke-width="1.4"/>
<circle cx="302.4" cy="884.5" r="3.0" fill="none" stroke="#141414" stroke-width="1.4"/>
<circle cx="302.4" cy="888.4" r="3.0" fill="none" stroke="#141414" stroke-width="1.4"/>
<circle cx="302.4" cy="892.3" r="3.0" fill="none" stroke="#141414" stroke-width="1.4"/>
<circle cx="302.4" cy="900.1" r="3.0" fill="none" stroke="#141414" stroke-width="1.4"/>
<circle cx="302.4" cy="908.6" r="3.0" fill="none" stroke="#141414" stroke-width="1.4"/>
<circle cx="302.4" cy="921.6" r="3.0" fill="none" stroke="#141414" stroke-width="1.4"/>
<circle cx="302.4" cy="929.0" r="3.0" fill="none" stroke="#141414" stroke-width="1.4"/>
<circle cx="302.4" cy="933.0" r="3.0" fill="none" stroke="#141414" stroke-width="1.4"/>
<circle cx="302.4" cy="937.0" r="3.0" fill="none" stroke="#141414" stroke-width="1.4"/>
<circle cx="302.4" cy="941.0" r="3.0" fill="none" stroke="#141414" stroke-width="1.4"/>
<circle cx="302.4" cy="945.0" r="3.0" fill="none" stroke="#141414" stroke-width="1.4"/>
<circle cx="302.4" cy="949.0" r="3.0" fill="none" stroke="#141414" stroke-width="1.4"/>
<circle cx="302.4" cy="958.3" r="3.0" fill="none" stroke="#141414" stroke-width="1.4"/>
<circle cx="302.4" cy="967.2" r="3.0" fill="none" stroke="#141414" stroke-width="1.4"/>
<circle cx="302.4" cy="973.6" r="3.0" fill="none" stroke="#141414" stroke-width="1.4"/>
<circle cx="302.4" cy="981.7" r="3.0" fill="none" stroke="#141414" stroke-width="1.4"/>
<circle cx="302.4" cy="988.2" r="3.0" fill="none" stroke="#141414" stroke-width="1.4"/>
<circle cx="321.3" cy="862.4" r="3.0" fill="none" stroke="#141414" stroke-width="1.4"/>
<circle cx="321.3" cy="907.9" r="3.0" fill="none" stroke="#141414" stroke-width="1.4"/>
<circle cx="321.3" cy="936.5" r="3.0" fill="none" stroke="#141414" stroke-width="1.4"/>
<circle cx="321.3" cy="941.7" r="3.0" fill="none" stroke="#141414" stroke-width="1.4"/>
<circle cx="321.3" cy="942.9" r="3.0" fill="none" stroke="#141414" stroke-width="1.4"/>
<circle cx="321.3" cy="948.2" r="3.0" fill="none" stroke="#141414" stroke-width="1.4"/>
<circle cx="321.3" cy="949.0" r="3.0" fill="none" stroke="#141414" stroke-width="1.4"/>
<circle cx="321.3" cy="951.5" r="3.0" fill="none" stroke="#141414" stroke-width="1.4"/>
<circle cx="321.3" cy="954.0" r="3.0" fill="none" stroke="#141414" stroke-width="1.4"/>
<circle cx="321.3" cy="956.5" r="3.0" fill="none" stroke="#141414" stroke-width="1.4"/>
<circle cx="321.3" cy="959.0" r="3.0" fill="none" stroke="#141414" stroke-width="1.4"/>
<circle cx="321.3" cy="961.5" r="3.0" fill="none" stroke="#141414" stroke-width="1.4"/>
<circle cx="321.3" cy="964.0" r="3.0" fill="none" stroke="#141414" stroke-width="1.4"/>
<circle cx="321.3" cy="966.5" r="3.0" fill="none" stroke="#141414" stroke-width="1.4"/>
<circle cx="321.3" cy="969.0" r="3.0" fill="none" stroke="#141414" stroke-width="1.4"/>
<circle cx="321.3" cy="971.5" r="3.0" fill="none" stroke="#141414" stroke-width="1.4"/>
<circle cx="321.3" cy="974.0" r="3.0" fill="none" stroke="#141414" stroke-width="1.4"/>
<circle cx="321.3" cy="976.5" r="3.0" fill="none" stroke="#141414" stroke-width="1.4"/>
<circle cx="321.3" cy="987.4" r="3.0" fill="none" stroke="#141414" stroke-width="1.4"/>
<circle cx="321.3" cy="993.0" r="3.0" fill="none" stroke="#141414" stroke-width="1.4"/>
<circle cx="378.0" cy="811.3" r="3.0" fill="none" stroke="#141414" stroke-width="1.4"/>
<circle cx="378.0" cy="822.0" r="3.0" fill="none" stroke="#141414" stroke-width="1.4"/>
<circle cx="378.0" cy="826.0" r="3.0" fill="none" stroke="#141414" stroke-width="1.4"/>
<circle cx="378.0" cy="830.0" r="3.0" fill="none" stroke="#141414" stroke-width="1.4"/>
<circle cx="378.0" cy="834.0" r="3.0" fill="none" stroke="#141414" stroke-width="1.4"/>
<circle cx="378.0" cy="838.0" r="3.0" fill="none" stroke="#141414" stroke-width="1.4"/>
<circle cx="378.0" cy="842.0" r="3.0" fill="none" stroke="#141414" stroke-width="1.4"/>
<circle cx="378.0" cy="846.0" r="3.0" fill="none" stroke="#141414" stroke-width="1.4"/>
<circle cx="378.0" cy="850.0" r="3.0" fill="none" stroke="#141414" stroke-width="1.4"/>
<circle cx="378.0" cy="854.0" r="3.0" fill="none" stroke="#141414" stroke-width="1.4"/>
<circle cx="378.0" cy="858.0" r="3.0" fill="none" stroke="#141414" stroke-width="1.4"/>
<circle cx="378.0" cy="866.0" r="3.0" fill="none" stroke="#141414" stroke-width="1.4"/>
<circle cx="378.0" cy="878.4" r="3.0" fill="none" stroke="#141414" stroke-width="1.4"/>
<circle cx="378.0" cy="888.8" r="3.0" fill="none" stroke="#141414" stroke-width="1.4"/>
<circle cx="396.9" cy="865.4" r="3.0" fill="none" stroke="#141414" stroke-width="1.4"/>
<circle cx="396.9" cy="870.0" r="3.0" fill="none" stroke="#141414" stroke-width="1.4"/>
<circle cx="396.9" cy="874.0" r="3.0" fill="none" stroke="#141414" stroke-width="1.4"/>
<circle cx="396.9" cy="878.0" r="3.0" fill="none" stroke="#141414" stroke-width="1.4"/>
<circle cx="396.9" cy="882.0" r="3.0" fill="none" stroke="#141414" stroke-width="1.4"/>
<circle cx="396.9" cy="886.0" r="3.0" fill="none" stroke="#141414" stroke-width="1.4"/>
<circle cx="396.9" cy="890.0" r="3.0" fill="none" stroke="#141414" stroke-width="1.4"/>
<circle cx="396.9" cy="894.0" r="3.0" fill="none" stroke="#141414" stroke-width="1.4"/>
<circle cx="396.9" cy="898.0" r="3.0" fill="none" stroke="#141414" stroke-width="1.4"/>
<circle cx="396.9" cy="902.0" r="3.0" fill="none" stroke="#141414" stroke-width="1.4"/>
<circle cx="396.9" cy="906.0" r="3.0" fill="none" stroke="#141414" stroke-width="1.4"/>
<circle cx="396.9" cy="910.0" r="3.0" fill="none" stroke="#141414" stroke-width="1.4"/>
<circle cx="396.9" cy="914.0" r="3.0" fill="none" stroke="#141414" stroke-width="1.4"/>
<circle cx="396.9" cy="917.0" r="3.0" fill="none" stroke="#141414" stroke-width="1.4"/>
<circle cx="396.9" cy="934.9" r="3.0" fill="none" stroke="#141414" stroke-width="1.4"/>
<circle cx="396.9" cy="950.0" r="3.0" fill="none" stroke="#141414" stroke-width="1.4"/>
<circle cx="396.9" cy="965.4" r="3.0" fill="none" stroke="#141414" stroke-width="1.4"/>
<circle cx="396.9" cy="970.0" r="3.0" fill="none" stroke="#141414" stroke-width="1.4"/>
<circle cx="415.8" cy="867.2" r="3.0" fill="none" stroke="#141414" stroke-width="1.4"/>
<circle cx="415.8" cy="931.5" r="3.0" fill="none" stroke="#141414" stroke-width="1.4"/>
<circle cx="415.8" cy="945.0" r="3.0" fill="none" stroke="#141414" stroke-width="1.4"/>
<circle cx="415.8" cy="949.0" r="3.0" fill="none" stroke="#141414" stroke-width="1.4"/>
<circle cx="415.8" cy="955.0" r="3.0" fill="none" stroke="#141414" stroke-width="1.4"/>
<circle cx="415.8" cy="960.0" r="3.0" fill="none" stroke="#141414" stroke-width="1.4"/>
<circle cx="415.8" cy="964.0" r="3.0" fill="none" stroke="#141414" stroke-width="1.4"/>
<circle cx="415.8" cy="968.0" r="3.0" fill="none" stroke="#141414" stroke-width="1.4"/>
<circle cx="415.8" cy="972.0" r="3.0" fill="none" stroke="#141414" stroke-width="1.4"/>
<circle cx="415.8" cy="976.0" r="3.0" fill="none" stroke="#141414" stroke-width="1.4"/>
<circle cx="434.6" cy="771.0" r="3.0" fill="none" stroke="#141414" stroke-width="1.4"/>
<circle cx="434.6" cy="839.6" r="3.0" fill="none" stroke="#141414" stroke-width="1.4"/>
<circle cx="434.6" cy="855.5" r="3.0" fill="none" stroke="#141414" stroke-width="1.4"/>
<circle cx="434.6" cy="858.8" r="3.0" fill="none" stroke="#141414" stroke-width="1.4"/>
<circle cx="434.6" cy="884.8" r="3.0" fill="none" stroke="#141414" stroke-width="1.4"/>
<circle cx="434.6" cy="890.0" r="3.0" fill="none" stroke="#141414" stroke-width="1.4"/>
<circle cx="434.6" cy="893.9" r="3.0" fill="none" stroke="#141414" stroke-width="1.4"/>
<circle cx="434.6" cy="897.8" r="3.0" fill="none" stroke="#141414" stroke-width="1.4"/>
<circle cx="434.6" cy="901.7" r="3.0" fill="none" stroke="#141414" stroke-width="1.4"/>
<circle cx="434.6" cy="905.6" r="3.0" fill="none" stroke="#141414" stroke-width="1.4"/>
<circle cx="434.6" cy="909.5" r="3.0" fill="none" stroke="#141414" stroke-width="1.4"/>
<circle cx="434.6" cy="916.9" r="3.0" fill="none" stroke="#141414" stroke-width="1.4"/>
<circle cx="434.6" cy="951.5" r="3.0" fill="none" stroke="#141414" stroke-width="1.4"/>
<circle cx="434.6" cy="961.5" r="3.0" fill="none" stroke="#141414" stroke-width="1.4"/>
<circle cx="434.6" cy="973.8" r="3.0" fill="none" stroke="#141414" stroke-width="1.4"/>
<circle cx="434.6" cy="983.1" r="3.0" fill="none" stroke="#141414" stroke-width="1.4"/>
<circle cx="434.6" cy="987.7" r="3.0" fill="none" stroke="#141414" stroke-width="1.4"/>
<circle cx="434.6" cy="992.3" r="3.0" fill="none" stroke="#141414" stroke-width="1.4"/>
<circle cx="434.6" cy="996.9" r="3.0" fill="none" stroke="#141414" stroke-width="1.4"/>
<circle cx="434.6" cy="1000.0" r="3.0" fill="none" stroke="#141414" stroke-width="1.4"/>
<circle cx="453.5" cy="788.8" r="3.0" fill="none" stroke="#141414" stroke-width="1.4"/>
<circle cx="453.5" cy="868.2" r="3.0" fill="none" stroke="#141414" stroke-width="1.4"/>
<circle cx="453.5" cy="876.5" r="3.0" fill="none" stroke="#141414" stroke-width="1.4"/>
<circle cx="453.5" cy="881.8" r="3.0" fill="none" stroke="#141414" stroke-width="1.4"/>
<circle cx="453.5" cy="887.0" r="3.0" fill="none" stroke="#141414" stroke-width="1.4"/>
<circle cx="453.5" cy="891.5" r="3.0" fill="none" stroke="#141414" stroke-width="1.4"/>
<circle cx="453.5" cy="895.0" r="3.0" fill="none" stroke="#141414" stroke-width="1.4"/>
<circle cx="453.5" cy="897.5" r="3.0" fill="none" stroke="#141414" stroke-width="1.4"/>
<circle cx="453.5" cy="903.0" r="3.0" fill="none" stroke="#141414" stroke-width="1.4"/>
<circle cx="453.5" cy="907.0" r="3.0" fill="none" stroke="#141414" stroke-width="1.4"/>
<circle cx="453.5" cy="911.0" r="3.0" fill="none" stroke="#141414" stroke-width="1.4"/>
<circle cx="453.5" cy="921.5" r="3.0" fill="none" stroke="#141414" stroke-width="1.4"/>
<circle cx="453.5" cy="927.5" r="3.0" fill="none" stroke="#141414" stroke-width="1.4"/>
<circle cx="453.5" cy="933.5" r="3.0" fill="none" stroke="#141414" stroke-width="1.4"/>
<circle cx="453.5" cy="938.0" r="3.0" fill="none" stroke="#141414" stroke-width="1.4"/>
<circle cx="453.5" cy="942.5" r="3.0" fill="none" stroke="#141414" stroke-width="1.4"/>
<circle cx="453.5" cy="955.2" r="3.0" fill="none" stroke="#141414" stroke-width="1.4"/>
<circle cx="453.5" cy="973.2" r="3.0" fill="none" stroke="#141414" stroke-width="1.4"/>
<circle cx="453.5" cy="976.2" r="3.0" fill="none" stroke="#141414" stroke-width="1.4"/>
<circle cx="453.5" cy="983.8" r="3.0" fill="none" stroke="#141414" stroke-width="1.4"/>
<circle cx="453.5" cy="989.0" r="3.0" fill="none" stroke="#141414" stroke-width="1.4"/>
<circle cx="453.5" cy="981.5" r="3.0" fill="none" stroke="#141414" stroke-width="1.4"/>
<circle cx="453.5" cy="985.5" r="3.0" fill="none" stroke="#141414" stroke-width="1.4"/>
<circle cx="453.5" cy="987.5" r="3.0" fill="none" stroke="#141414" stroke-width="1.4"/>
<circle cx="453.5" cy="990.0" r="3.0" fill="none" stroke="#141414" stroke-width="1.4"/>
<circle cx="472.4" cy="843.8" r="3.0" fill="none" stroke="#141414" stroke-width="1.4"/>
<circle cx="472.4" cy="890.0" r="3.0" fill="none" stroke="#141414" stroke-width="1.4"/>
<circle cx="472.4" cy="896.7" r="3.0" fill="none" stroke="#141414" stroke-width="1.4"/>
<circle cx="472.4" cy="909.5" r="3.0" fill="none" stroke="#141414" stroke-width="1.4"/>
<circle cx="472.4" cy="925.0" r="3.0" fill="none" stroke="#141414" stroke-width="1.4"/>
<circle cx="472.4" cy="929.0" r="3.0" fill="none" stroke="#141414" stroke-width="1.4"/>
<circle cx="472.4" cy="933.0" r="3.0" fill="none" stroke="#141414" stroke-width="1.4"/>
<circle cx="472.4" cy="937.0" r="3.0" fill="none" stroke="#141414" stroke-width="1.4"/>
<circle cx="472.4" cy="941.0" r="3.0" fill="none" stroke="#141414" stroke-width="1.4"/>
<circle cx="472.4" cy="945.0" r="3.0" fill="none" stroke="#141414" stroke-width="1.4"/>
<circle cx="472.4" cy="951.5" r="3.0" fill="none" stroke="#141414" stroke-width="1.4"/>
<circle cx="472.4" cy="956.0" r="3.0" fill="none" stroke="#141414" stroke-width="1.4"/>
<circle cx="472.4" cy="962.0" r="3.0" fill="none" stroke="#141414" stroke-width="1.4"/>
<circle cx="472.4" cy="927.0" r="3.0" fill="none" stroke="#141414" stroke-width="1.4"/>
<circle cx="472.4" cy="931.0" r="3.0" fill="none" stroke="#141414" stroke-width="1.4"/>
<circle cx="472.4" cy="935.0" r="3.0" fill="none" stroke="#141414" stroke-width="1.4"/>
<circle cx="472.4" cy="939.0" r="3.0" fill="none" stroke="#141414" stroke-width="1.4"/>
<circle cx="472.4" cy="943.0" r="3.0" fill="none" stroke="#141414" stroke-width="1.4"/>
<circle cx="472.4" cy="947.0" r="3.0" fill="none" stroke="#141414" stroke-width="1.4"/>
<circle cx="491.3" cy="839.0" r="3.0" fill="none" stroke="#141414" stroke-width="1.4"/>
<circle cx="491.3" cy="847.2" r="3.0" fill="none" stroke="#141414" stroke-width="1.4"/>
<circle cx="491.3" cy="862.2" r="3.0" fill="none" stroke="#141414" stroke-width="1.4"/>
<circle cx="491.3" cy="883.2" r="3.0" fill="none" stroke="#141414" stroke-width="1.4"/>
<circle cx="491.3" cy="887.0" r="3.0" fill="none" stroke="#141414" stroke-width="1.4"/>
<circle cx="491.3" cy="903.5" r="3.0" fill="none" stroke="#141414" stroke-width="1.4"/>
<circle cx="491.3" cy="909.5" r="3.0" fill="none" stroke="#141414" stroke-width="1.4"/>
<circle cx="491.3" cy="914.8" r="3.0" fill="none" stroke="#141414" stroke-width="1.4"/>
<circle cx="491.3" cy="917.0" r="3.0" fill="none" stroke="#141414" stroke-width="1.4"/>
<circle cx="491.3" cy="932.0" r="3.0" fill="none" stroke="#141414" stroke-width="1.4"/>
<circle cx="491.3" cy="938.0" r="3.0" fill="none" stroke="#141414" stroke-width="1.4"/>
<circle cx="491.3" cy="945.5" r="3.0" fill="none" stroke="#141414" stroke-width="1.4"/>
<circle cx="491.3" cy="951.5" r="3.0" fill="none" stroke="#141414" stroke-width="1.4"/>
<circle cx="491.3" cy="956.8" r="3.0" fill="none" stroke="#141414" stroke-width="1.4"/>
<circle cx="491.3" cy="978.5" r="3.0" fill="none" stroke="#141414" stroke-width="1.4"/>
<circle cx="491.3" cy="983.8" r="3.0" fill="none" stroke="#141414" stroke-width="1.4"/>
<circle cx="491.3" cy="989.0" r="3.0" fill="none" stroke="#141414" stroke-width="1.4"/>
<circle cx="491.3" cy="995.0" r="3.0" fill="none" stroke="#141414" stroke-width="1.4"/>
<circle cx="491.3" cy="997.2" r="3.0" fill="none" stroke="#141414" stroke-width="1.4"/>
<circle cx="491.3" cy="1005.5" r="3.0" fill="none" stroke="#141414" stroke-width="1.4"/>
<circle cx="510.2" cy="842.0" r="3.0" fill="none" stroke="#141414" stroke-width="1.4"/>
<circle cx="510.2" cy="845.0" r="3.0" fill="none" stroke="#141414" stroke-width="1.4"/>
<circle cx="510.2" cy="851.0" r="3.0" fill="none" stroke="#141414" stroke-width="1.4"/>
<circle cx="510.2" cy="863.0" r="3.0" fill="none" stroke="#141414" stroke-width="1.4"/>
<circle cx="510.2" cy="869.8" r="3.0" fill="none" stroke="#141414" stroke-width="1.4"/>
<circle cx="510.2" cy="873.5" r="3.0" fill="none" stroke="#141414" stroke-width="1.4"/>
<circle cx="510.2" cy="876.5" r="3.0" fill="none" stroke="#141414" stroke-width="1.4"/>
<circle cx="510.2" cy="890.0" r="3.0" fill="none" stroke="#141414" stroke-width="1.4"/>
<circle cx="510.2" cy="891.5" r="3.0" fill="none" stroke="#141414" stroke-width="1.4"/>
<circle cx="510.2" cy="896.7" r="3.0" fill="none" stroke="#141414" stroke-width="1.4"/>
<circle cx="510.2" cy="905.0" r="3.0" fill="none" stroke="#141414" stroke-width="1.4"/>
<circle cx="510.2" cy="911.0" r="3.0" fill="none" stroke="#141414" stroke-width="1.4"/>
<circle cx="510.2" cy="915.5" r="3.0" fill="none" stroke="#141414" stroke-width="1.4"/>
<circle cx="510.2" cy="930.5" r="3.0" fill="none" stroke="#141414" stroke-width="1.4"/>
<circle cx="510.2" cy="973.2" r="3.0" fill="none" stroke="#141414" stroke-width="1.4"/>
<circle cx="510.2" cy="998.0" r="3.0" fill="none" stroke="#141414" stroke-width="1.4"/>
<circle cx="510.2" cy="1004.0" r="3.0" fill="none" stroke="#141414" stroke-width="1.4"/>
<circle cx="113.6" cy="833.1" r="3.0" fill="#e31c25" stroke="#a8121a" stroke-width="0.8"/>
<circle cx="113.6" cy="842.2" r="3.0" fill="#e31c25" stroke="#a8121a" stroke-width="0.8"/>
<circle cx="113.6" cy="846.1" r="3.0" fill="#e31c25" stroke="#a8121a" stroke-width="0.8"/>
<circle cx="113.6" cy="856.5" r="3.0" fill="#e31c25" stroke="#a8121a" stroke-width="0.8"/>
<circle cx="378.0" cy="817.5" r="3.0" fill="#e31c25" stroke="#a8121a" stroke-width="0.8"/>
<circle cx="378.0" cy="837.7" r="3.0" fill="#e31c25" stroke="#a8121a" stroke-width="0.8"/>
<circle cx="378.0" cy="853.8" r="3.0" fill="#e31c25" stroke="#a8121a" stroke-width="0.8"/>
<circle cx="396.9" cy="888.0" r="3.0" fill="#e31c25" stroke="#a8121a" stroke-width="0.8"/>
<circle cx="396.9" cy="891.5" r="3.0" fill="#e31c25" stroke="#a8121a" stroke-width="0.8"/>
</svg></body></html>
